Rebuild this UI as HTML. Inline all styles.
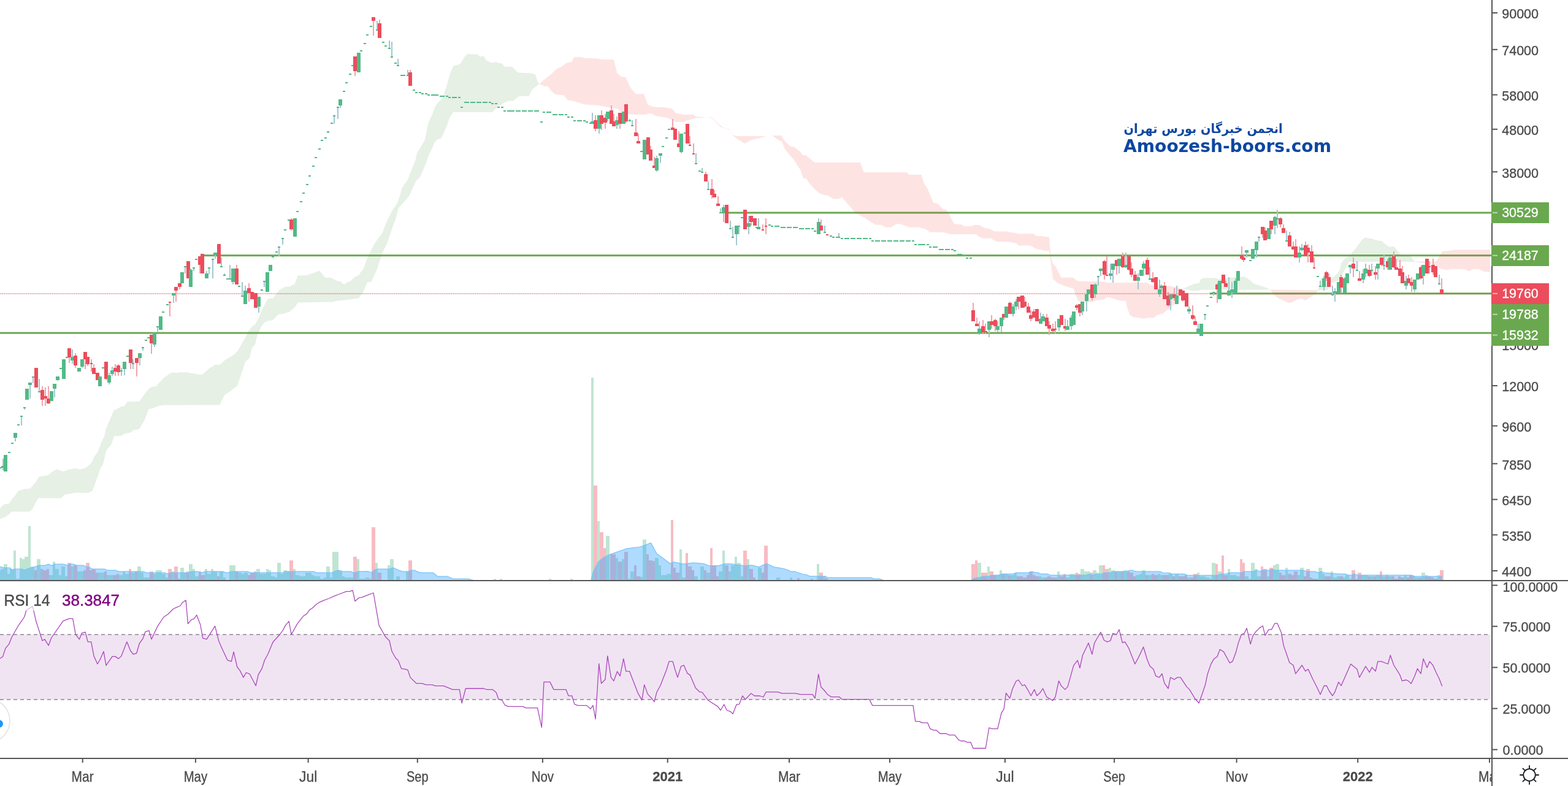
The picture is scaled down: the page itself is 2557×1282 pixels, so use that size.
<!DOCTYPE html><html><head><meta charset="utf-8"><title>Chart</title><style>html,body{margin:0;padding:0;background:#fff;overflow:hidden}svg{display:block}text{font-family:"Liberation Sans",Arial,sans-serif}</style></head><body>
<svg xmlns="http://www.w3.org/2000/svg" width="2557" height="1282" viewBox="0 0 2557 1282">
<defs><clipPath id="cm"><rect x="0" y="0" width="2432" height="946"/></clipPath><clipPath id="cr"><rect x="0" y="948" width="2432" height="288"/></clipPath><clipPath id="ct"><rect x="0" y="1238" width="2432" height="44"/></clipPath></defs>
<rect width="2557" height="1282" fill="#fff"/>
<g clip-path="url(#cm)">
<g fill="#6aa84f">
<rect x="1183" y="345.5" width="1249" height="3"/>
<rect x="328" y="415.2" width="2104" height="3"/>
<rect x="1973" y="477.3" width="459" height="3"/>
<rect x="0" y="541.6" width="2432" height="3"/>
</g>
<rect x="0" y="478" width="2432" height="2" fill="#eb4d5c" fill-opacity="0.2"/>
<line x1="0" y1="479" x2="2432" y2="479" stroke="#eb4d5c" stroke-width="2" stroke-dasharray="1 2" stroke-dashoffset="-1" stroke-opacity="0.45"/>
<g opacity="0.37" shape-rendering="crispEdges">
<rect x="0" y="930.1" width="2" height="15.9" fill="#53b987"/>
<rect x="2" y="928" width="3.9" height="18" fill="#53b987"/>
<rect x="5.9" y="920.2" width="5.8" height="25.8" fill="#53b987"/>
<rect x="11.7" y="936" width="4.3" height="10" fill="#53b987"/>
<rect x="16" y="928" width="6.3" height="18" fill="#53b987"/>
<rect x="22.3" y="898" width="3.5" height="48" fill="#53b987"/>
<rect x="25.8" y="944" width="6.3" height="2" fill="#53b987"/>
<rect x="32.1" y="910" width="3.9" height="36" fill="#53b987"/>
<rect x="36" y="912.1" width="3.9" height="33.9" fill="#53b987"/>
<rect x="39.9" y="908.1" width="6.3" height="37.9" fill="#53b987"/>
<rect x="46.2" y="858" width="3.5" height="88" fill="#53b987"/>
<rect x="49.7" y="924.2" width="6.2" height="21.8" fill="#53b987"/>
<rect x="55.9" y="930.1" width="3.9" height="15.9" fill="#eb4d5c"/>
<rect x="59.8" y="912.1" width="6.1" height="33.9" fill="#53b987"/>
<rect x="65.9" y="928" width="4.1" height="18" fill="#eb4d5c"/>
<rect x="70" y="930.1" width="5.9" height="15.9" fill="#eb4d5c"/>
<rect x="75.9" y="928" width="3.9" height="18" fill="#eb4d5c"/>
<rect x="79.8" y="938.1" width="6.2" height="7.9" fill="#53b987"/>
<rect x="86" y="916" width="4" height="30" fill="#53b987"/>
<rect x="90" y="928" width="5.8" height="18" fill="#53b987"/>
<rect x="95.8" y="938.1" width="4.3" height="7.9" fill="#53b987"/>
<rect x="100.1" y="924.1" width="5.9" height="21.9" fill="#53b987"/>
<rect x="106" y="940" width="3.9" height="6" fill="#53b987"/>
<rect x="109.9" y="918" width="5.9" height="28" fill="#eb4d5c"/>
<rect x="115.8" y="924.1" width="4.3" height="21.9" fill="#53b987"/>
<rect x="120.1" y="922.1" width="5.8" height="23.9" fill="#eb4d5c"/>
<rect x="125.9" y="932.1" width="10.2" height="13.9" fill="#53b987"/>
<rect x="136.1" y="930.1" width="3.9" height="15.9" fill="#eb4d5c"/>
<rect x="140" y="918" width="5.9" height="28" fill="#eb4d5c"/>
<rect x="145.9" y="930.1" width="4.3" height="15.9" fill="#eb4d5c"/>
<rect x="150.2" y="928" width="5.9" height="18" fill="#eb4d5c"/>
<rect x="156.1" y="934" width="3.9" height="12" fill="#eb4d5c"/>
<rect x="160" y="934" width="10.1" height="12" fill="#53b987"/>
<rect x="170.1" y="932.1" width="3.9" height="13.9" fill="#eb4d5c"/>
<rect x="174" y="938.1" width="10.2" height="7.9" fill="#53b987"/>
<rect x="184.2" y="938.1" width="5.9" height="7.9" fill="#eb4d5c"/>
<rect x="190.1" y="936" width="3.9" height="10" fill="#eb4d5c"/>
<rect x="194" y="938.1" width="6" height="7.9" fill="#53b987"/>
<rect x="200" y="932.1" width="3.9" height="13.9" fill="#53b987"/>
<rect x="203.9" y="936" width="6.1" height="10" fill="#53b987"/>
<rect x="210" y="928" width="3.9" height="18" fill="#eb4d5c"/>
<rect x="213.9" y="934" width="6" height="12" fill="#53b987"/>
<rect x="219.9" y="932.1" width="4.1" height="13.9" fill="#eb4d5c"/>
<rect x="224" y="924.1" width="5.9" height="21.9" fill="#53b987"/>
<rect x="229.9" y="934" width="4.1" height="12" fill="#53b987"/>
<rect x="234" y="942.1" width="10" height="3.9" fill="#53b987"/>
<rect x="244" y="932.1" width="5.9" height="13.9" fill="#eb4d5c"/>
<rect x="249.9" y="936" width="4.1" height="10" fill="#53b987"/>
<rect x="254" y="930.1" width="10" height="15.9" fill="#53b987"/>
<rect x="264" y="936" width="6" height="10" fill="#53b987"/>
<rect x="270" y="942.1" width="4.1" height="3.9" fill="#53b987"/>
<rect x="274.1" y="928" width="5.8" height="18" fill="#eb4d5c"/>
<rect x="279.9" y="932.1" width="4.2" height="13.9" fill="#53b987"/>
<rect x="284.1" y="924.1" width="5.9" height="21.9" fill="#eb4d5c"/>
<rect x="290" y="944" width="4" height="2" fill="#eb4d5c"/>
<rect x="294" y="926" width="6" height="20" fill="#53b987"/>
<rect x="300" y="934" width="4" height="12" fill="#53b987"/>
<rect x="304" y="932.1" width="4.1" height="13.9" fill="#eb4d5c"/>
<rect x="308.1" y="920.2" width="5.9" height="25.8" fill="#53b987"/>
<rect x="314" y="928" width="4" height="18" fill="#53b987"/>
<rect x="318" y="940" width="6" height="6" fill="#53b987"/>
<rect x="324" y="932.1" width="3.9" height="13.9" fill="#eb4d5c"/>
<rect x="327.9" y="938.1" width="6" height="7.9" fill="#eb4d5c"/>
<rect x="333.9" y="928" width="4.2" height="18" fill="#53b987"/>
<rect x="338.1" y="936" width="5.8" height="10" fill="#53b987"/>
<rect x="343.9" y="928" width="4.1" height="18" fill="#53b987"/>
<rect x="348" y="932.1" width="6.1" height="13.9" fill="#53b987"/>
<rect x="354.1" y="940" width="3.9" height="6" fill="#eb4d5c"/>
<rect x="358" y="932.1" width="6.1" height="13.9" fill="#53b987"/>
<rect x="364.1" y="942.1" width="3.9" height="3.9" fill="#53b987"/>
<rect x="368" y="945.8" width="6" height="0.2" fill="#53b987"/>
<rect x="374" y="922.1" width="10" height="23.9" fill="#53b987"/>
<rect x="384" y="932.1" width="4" height="13.9" fill="#eb4d5c"/>
<rect x="388" y="934" width="6" height="12" fill="#53b987"/>
<rect x="394" y="936" width="3.9" height="10" fill="#53b987"/>
<rect x="397.9" y="934" width="2.1" height="12" fill="#53b987"/>
<rect x="400" y="934" width="3.9" height="12" fill="#53b987"/>
<rect x="403.9" y="938.1" width="4.1" height="7.9" fill="#eb4d5c"/>
<rect x="408" y="934" width="6.1" height="12" fill="#eb4d5c"/>
<rect x="414.1" y="932.1" width="3.9" height="13.9" fill="#eb4d5c"/>
<rect x="418" y="928" width="6" height="18" fill="#53b987"/>
<rect x="424" y="936" width="10" height="10" fill="#53b987"/>
<rect x="434" y="928" width="3.9" height="18" fill="#53b987"/>
<rect x="437.9" y="930.1" width="4.1" height="15.9" fill="#53b987"/>
<rect x="442" y="940" width="5.9" height="6" fill="#53b987"/>
<rect x="447.9" y="942.1" width="4.1" height="3.9" fill="#53b987"/>
<rect x="452" y="918.1" width="5.9" height="27.9" fill="#53b987"/>
<rect x="457.9" y="936" width="4.3" height="10" fill="#53b987"/>
<rect x="462.2" y="930.1" width="5.8" height="15.9" fill="#53b987"/>
<rect x="468" y="932.1" width="4" height="13.9" fill="#53b987"/>
<rect x="472" y="914.1" width="6" height="31.9" fill="#eb4d5c"/>
<rect x="478" y="928" width="3.9" height="18" fill="#53b987"/>
<rect x="481.9" y="938.1" width="6.1" height="7.9" fill="#53b987"/>
<rect x="488" y="940" width="9.9" height="6" fill="#53b987"/>
<rect x="497.9" y="934" width="10" height="12" fill="#53b987"/>
<rect x="507.9" y="938.1" width="4.1" height="7.9" fill="#53b987"/>
<rect x="512" y="940" width="10" height="6" fill="#53b987"/>
<rect x="522" y="944" width="6" height="2" fill="#53b987"/>
<rect x="528" y="942.1" width="4" height="3.9" fill="#53b987"/>
<rect x="532" y="924.1" width="5.9" height="21.9" fill="#53b987"/>
<rect x="537.9" y="942.1" width="4.1" height="3.9" fill="#53b987"/>
<rect x="542" y="900.2" width="9.9" height="45.8" fill="#53b987"/>
<rect x="551.9" y="930.1" width="6.1" height="15.9" fill="#53b987"/>
<rect x="558" y="940" width="3.9" height="6" fill="#53b987"/>
<rect x="561.9" y="942.1" width="14.1" height="3.9" fill="#53b987"/>
<rect x="576" y="908.1" width="5.9" height="37.9" fill="#eb4d5c"/>
<rect x="581.9" y="912.1" width="4" height="33.9" fill="#53b987"/>
<rect x="585.9" y="944" width="10" height="2" fill="#53b987"/>
<rect x="595.9" y="942.1" width="4.1" height="3.9" fill="#53b987"/>
<rect x="600" y="942.1" width="2" height="3.9" fill="#53b987"/>
<rect x="602" y="944" width="4" height="2" fill="#53b987"/>
<rect x="606" y="860.1" width="6" height="85.9" fill="#eb4d5c"/>
<rect x="612" y="918.1" width="4" height="27.9" fill="#53b987"/>
<rect x="616" y="934" width="5.9" height="12" fill="#eb4d5c"/>
<rect x="632.1" y="922.1" width="4" height="23.9" fill="#53b987"/>
<rect x="636.1" y="912.1" width="5.9" height="33.9" fill="#53b987"/>
<rect x="646.1" y="940" width="5.8" height="6" fill="#53b987"/>
<rect x="662" y="932.1" width="4.1" height="13.9" fill="#53b987"/>
<rect x="666.1" y="914.1" width="5.9" height="31.9" fill="#eb4d5c"/>
<rect x="805" y="944" width="4" height="2" fill="#53b987"/>
<rect x="815" y="944" width="4" height="2" fill="#53b987"/>
<rect x="895" y="944" width="4" height="2" fill="#53b987"/>
<rect x="930" y="944" width="4" height="2" fill="#53b987"/>
<rect x="964" y="615.8" width="3.8" height="330.2" fill="#53b987"/>
<rect x="967.8" y="791.9" width="6" height="154.1" fill="#eb4d5c"/>
<rect x="973.8" y="849.7" width="3.9" height="96.3" fill="#53b987"/>
<rect x="977.7" y="868" width="6" height="78" fill="#eb4d5c"/>
<rect x="983.7" y="894" width="4.3" height="52" fill="#eb4d5c"/>
<rect x="988" y="873.7" width="6" height="72.3" fill="#53b987"/>
<rect x="994.6" y="904.3" width="9.5" height="41.7" fill="#eb4d5c"/>
<rect x="1004.1" y="909.8" width="3.6" height="36.2" fill="#53b987"/>
<rect x="1007.7" y="916" width="6" height="30" fill="#eb4d5c"/>
<rect x="1013.7" y="912" width="4.1" height="34" fill="#53b987"/>
<rect x="1017.8" y="899.7" width="6" height="46.3" fill="#eb4d5c"/>
<rect x="1023.8" y="943.9" width="4.1" height="2.1" fill="#53b987"/>
<rect x="1027.9" y="931.6" width="6.3" height="14.4" fill="#53b987"/>
<rect x="1034.2" y="922" width="3.5" height="24" fill="#eb4d5c"/>
<rect x="1037.7" y="939.8" width="6" height="6.2" fill="#eb4d5c"/>
<rect x="1043.7" y="941.2" width="4.1" height="4.8" fill="#53b987"/>
<rect x="1047.8" y="879.7" width="6" height="66.3" fill="#53b987"/>
<rect x="1053.8" y="903.8" width="4.1" height="42.2" fill="#eb4d5c"/>
<rect x="1057.9" y="913.9" width="6.3" height="32.1" fill="#eb4d5c"/>
<rect x="1064.2" y="915.2" width="3.5" height="30.8" fill="#eb4d5c"/>
<rect x="1067.7" y="909.8" width="6" height="36.2" fill="#53b987"/>
<rect x="1073.7" y="922" width="4.1" height="24" fill="#53b987"/>
<rect x="1077.8" y="937.9" width="9.6" height="8.1" fill="#53b987"/>
<rect x="1087.4" y="935.7" width="6.8" height="10.3" fill="#53b987"/>
<rect x="1094.2" y="847.8" width="3.6" height="98.2" fill="#eb4d5c"/>
<rect x="1097.8" y="926.1" width="4" height="19.9" fill="#eb4d5c"/>
<rect x="1101.8" y="933.5" width="6.1" height="12.5" fill="#eb4d5c"/>
<rect x="1107.9" y="896.1" width="4" height="49.9" fill="#53b987"/>
<rect x="1111.9" y="941.7" width="6" height="4.3" fill="#53b987"/>
<rect x="1118" y="902" width="3.8" height="44" fill="#eb4d5c"/>
<rect x="1121.8" y="924" width="6" height="22" fill="#eb4d5c"/>
<rect x="1127.8" y="930.2" width="4.1" height="15.8" fill="#eb4d5c"/>
<rect x="1131.9" y="939.8" width="6" height="6.2" fill="#53b987"/>
<rect x="1142" y="924" width="6" height="22" fill="#53b987"/>
<rect x="1148" y="930.2" width="4.1" height="15.8" fill="#eb4d5c"/>
<rect x="1152.1" y="933.5" width="5.7" height="12.5" fill="#53b987"/>
<rect x="1158.3" y="894" width="3.6" height="52" fill="#eb4d5c"/>
<rect x="1161.9" y="922" width="6" height="24" fill="#eb4d5c"/>
<rect x="1167.9" y="939.8" width="4.1" height="6.2" fill="#eb4d5c"/>
<rect x="1172" y="932.2" width="6" height="13.8" fill="#53b987"/>
<rect x="1178.3" y="898" width="3.5" height="48" fill="#53b987"/>
<rect x="1181.8" y="922" width="6" height="24" fill="#eb4d5c"/>
<rect x="1187.8" y="932.2" width="4.1" height="13.8" fill="#53b987"/>
<rect x="1191.9" y="922" width="6" height="24" fill="#53b987"/>
<rect x="1197.9" y="907.9" width="4.1" height="38.1" fill="#53b987"/>
<rect x="1202" y="918" width="6" height="28" fill="#53b987"/>
<rect x="1208" y="939.8" width="4.1" height="6.2" fill="#53b987"/>
<rect x="1212.4" y="898" width="5.4" height="48" fill="#eb4d5c"/>
<rect x="1217.8" y="912" width="4.1" height="34" fill="#53b987"/>
<rect x="1221.9" y="927.5" width="6" height="18.5" fill="#eb4d5c"/>
<rect x="1227.9" y="941.7" width="4.1" height="4.3" fill="#eb4d5c"/>
<rect x="1236.1" y="926.1" width="5.5" height="19.9" fill="#53b987"/>
<rect x="1241.6" y="933.5" width="4.1" height="12.5" fill="#eb4d5c"/>
<rect x="1245.7" y="889.9" width="6" height="56.1" fill="#eb4d5c"/>
<rect x="1266.1" y="941.7" width="5.5" height="4.3" fill="#53b987"/>
<rect x="1288" y="942" width="4" height="4" fill="#53b987"/>
<rect x="1300" y="943" width="4" height="3" fill="#eb4d5c"/>
<rect x="1322" y="944" width="4" height="2" fill="#53b987"/>
<rect x="1332.2" y="920.2" width="3.8" height="25.8" fill="#53b987"/>
<rect x="1336" y="934.2" width="5.7" height="11.8" fill="#eb4d5c"/>
<rect x="1341.7" y="940" width="4.3" height="6" fill="#53b987"/>
<rect x="1346" y="943" width="4" height="3" fill="#eb4d5c"/>
<rect x="1584.1" y="920.2" width="5.9" height="25.8" fill="#eb4d5c"/>
<rect x="1590" y="914.1" width="3.9" height="31.9" fill="#eb4d5c"/>
<rect x="1593.9" y="918.1" width="6" height="27.9" fill="#53b987"/>
<rect x="1599.9" y="934" width="10.1" height="12" fill="#eb4d5c"/>
<rect x="1610" y="924.1" width="3.9" height="21.9" fill="#53b987"/>
<rect x="1613.9" y="932.1" width="6" height="13.9" fill="#eb4d5c"/>
<rect x="1619.9" y="938.1" width="4.1" height="7.9" fill="#eb4d5c"/>
<rect x="1624" y="938.1" width="6.1" height="7.9" fill="#53b987"/>
<rect x="1630.1" y="930.1" width="3.9" height="15.9" fill="#53b987"/>
<rect x="1634" y="936" width="4" height="10" fill="#eb4d5c"/>
<rect x="1638" y="936" width="6" height="10" fill="#53b987"/>
<rect x="1644" y="938.1" width="4" height="7.9" fill="#eb4d5c"/>
<rect x="1648" y="938.1" width="5.9" height="7.9" fill="#53b987"/>
<rect x="1653.9" y="934" width="4.1" height="12" fill="#53b987"/>
<rect x="1658" y="940" width="10" height="6" fill="#eb4d5c"/>
<rect x="1668" y="942.1" width="6.1" height="3.9" fill="#eb4d5c"/>
<rect x="1674.1" y="938.1" width="4.1" height="7.9" fill="#eb4d5c"/>
<rect x="1678.2" y="932.1" width="5.8" height="13.9" fill="#eb4d5c"/>
<rect x="1684" y="938.1" width="4.1" height="7.9" fill="#eb4d5c"/>
<rect x="1688.1" y="940" width="5.9" height="6" fill="#eb4d5c"/>
<rect x="1694" y="940" width="4" height="6" fill="#53b987"/>
<rect x="1698" y="942.1" width="6" height="3.9" fill="#53b987"/>
<rect x="1704" y="942.1" width="4" height="3.9" fill="#eb4d5c"/>
<rect x="1708" y="940" width="6" height="6" fill="#eb4d5c"/>
<rect x="1714" y="942.1" width="9.9" height="3.9" fill="#eb4d5c"/>
<rect x="1723.9" y="932.1" width="4.1" height="13.9" fill="#53b987"/>
<rect x="1728" y="940" width="6.1" height="6" fill="#eb4d5c"/>
<rect x="1734.1" y="936" width="3.9" height="10" fill="#eb4d5c"/>
<rect x="1738" y="942.1" width="6" height="3.9" fill="#53b987"/>
<rect x="1744" y="936" width="10" height="10" fill="#53b987"/>
<rect x="1754" y="934" width="4" height="12" fill="#eb4d5c"/>
<rect x="1758" y="936" width="4" height="10" fill="#eb4d5c"/>
<rect x="1762" y="928" width="6" height="18" fill="#53b987"/>
<rect x="1768" y="932.1" width="9.9" height="13.9" fill="#53b987"/>
<rect x="1777.9" y="934" width="4.1" height="12" fill="#eb4d5c"/>
<rect x="1782" y="930.1" width="6" height="15.9" fill="#53b987"/>
<rect x="1788" y="934" width="4.1" height="12" fill="#53b987"/>
<rect x="1792.1" y="922.1" width="5.9" height="23.9" fill="#53b987"/>
<rect x="1798" y="922.1" width="4.1" height="23.9" fill="#eb4d5c"/>
<rect x="1802.1" y="928" width="5.8" height="18" fill="#eb4d5c"/>
<rect x="1807.9" y="926" width="4" height="20" fill="#53b987"/>
<rect x="1811.9" y="930.1" width="6" height="15.9" fill="#53b987"/>
<rect x="1817.9" y="932.1" width="4.1" height="13.9" fill="#eb4d5c"/>
<rect x="1822" y="932.1" width="5.9" height="13.9" fill="#53b987"/>
<rect x="1827.9" y="932.1" width="4.1" height="13.9" fill="#eb4d5c"/>
<rect x="1832" y="930.1" width="6" height="15.9" fill="#53b987"/>
<rect x="1838" y="932.1" width="4" height="13.9" fill="#eb4d5c"/>
<rect x="1842" y="934" width="5.9" height="12" fill="#eb4d5c"/>
<rect x="1847.9" y="940" width="4.1" height="6" fill="#eb4d5c"/>
<rect x="1852" y="938.1" width="6" height="7.9" fill="#53b987"/>
<rect x="1858" y="936" width="4" height="10" fill="#53b987"/>
<rect x="1862" y="930.1" width="6" height="15.9" fill="#53b987"/>
<rect x="1868" y="938.1" width="3.9" height="7.9" fill="#eb4d5c"/>
<rect x="1871.9" y="938.1" width="6.1" height="7.9" fill="#53b987"/>
<rect x="1878" y="936" width="4.1" height="10" fill="#eb4d5c"/>
<rect x="1882.1" y="938.1" width="5.8" height="7.9" fill="#eb4d5c"/>
<rect x="1887.9" y="936" width="4.1" height="10" fill="#53b987"/>
<rect x="1892" y="938.1" width="4.2" height="7.9" fill="#53b987"/>
<rect x="1896.2" y="938.1" width="9.7" height="7.9" fill="#eb4d5c"/>
<rect x="1905.9" y="936" width="6.1" height="10" fill="#53b987"/>
<rect x="1912" y="940" width="4.1" height="6" fill="#eb4d5c"/>
<rect x="1916.1" y="936" width="5.9" height="10" fill="#53b987"/>
<rect x="1922" y="940" width="9.9" height="6" fill="#eb4d5c"/>
<rect x="1931.9" y="938.1" width="4.1" height="7.9" fill="#eb4d5c"/>
<rect x="1936" y="942.1" width="5.9" height="3.9" fill="#53b987"/>
<rect x="1941.9" y="942.1" width="4.1" height="3.9" fill="#eb4d5c"/>
<rect x="1946" y="936" width="5.9" height="10" fill="#eb4d5c"/>
<rect x="1951.9" y="934" width="4.1" height="12" fill="#53b987"/>
<rect x="1956" y="940" width="9.9" height="6" fill="#53b987"/>
<rect x="1965.9" y="942.1" width="6.1" height="3.9" fill="#53b987"/>
<rect x="1972" y="944" width="3.9" height="2" fill="#53b987"/>
<rect x="1975.9" y="918.1" width="6.1" height="27.9" fill="#53b987"/>
<rect x="1982" y="920.2" width="4" height="25.8" fill="#eb4d5c"/>
<rect x="1986" y="932.1" width="6" height="13.9" fill="#53b987"/>
<rect x="1992" y="906" width="4" height="40" fill="#eb4d5c"/>
<rect x="1996" y="938.1" width="6.1" height="7.9" fill="#eb4d5c"/>
<rect x="2002.1" y="928" width="3.9" height="18" fill="#53b987"/>
<rect x="2006" y="938.1" width="10" height="7.9" fill="#53b987"/>
<rect x="2016" y="940" width="6" height="6" fill="#53b987"/>
<rect x="2022" y="912.1" width="4" height="33.9" fill="#eb4d5c"/>
<rect x="2026" y="918.1" width="3.9" height="27.9" fill="#eb4d5c"/>
<rect x="2029.9" y="940" width="6" height="6" fill="#53b987"/>
<rect x="2035.9" y="944" width="4.2" height="2" fill="#53b987"/>
<rect x="2040.1" y="918.1" width="5.8" height="27.9" fill="#53b987"/>
<rect x="2045.9" y="928" width="4.1" height="18" fill="#53b987"/>
<rect x="2050" y="940" width="6" height="6" fill="#53b987"/>
<rect x="2056" y="924.1" width="3.9" height="21.9" fill="#eb4d5c"/>
<rect x="2059.9" y="928" width="6" height="18" fill="#eb4d5c"/>
<rect x="2065.9" y="940" width="4.1" height="6" fill="#53b987"/>
<rect x="2070" y="926" width="5.8" height="20" fill="#eb4d5c"/>
<rect x="2075.8" y="922.1" width="4.3" height="23.9" fill="#53b987"/>
<rect x="2080.1" y="920.2" width="5.9" height="25.8" fill="#53b987"/>
<rect x="2086" y="934" width="3.9" height="12" fill="#eb4d5c"/>
<rect x="2089.9" y="938.1" width="6" height="7.9" fill="#eb4d5c"/>
<rect x="2095.9" y="926" width="4.2" height="20" fill="#53b987"/>
<rect x="2100.1" y="936" width="5.8" height="10" fill="#eb4d5c"/>
<rect x="2105.9" y="938.1" width="4.1" height="7.9" fill="#eb4d5c"/>
<rect x="2110" y="932.1" width="5.9" height="13.9" fill="#eb4d5c"/>
<rect x="2115.9" y="938.1" width="4.1" height="7.9" fill="#53b987"/>
<rect x="2120" y="926" width="5.9" height="20" fill="#53b987"/>
<rect x="2125.9" y="940" width="4.1" height="6" fill="#eb4d5c"/>
<rect x="2130" y="928" width="5.9" height="18" fill="#eb4d5c"/>
<rect x="2135.9" y="942.1" width="4.1" height="3.9" fill="#eb4d5c"/>
<rect x="2140" y="944" width="5.8" height="2" fill="#eb4d5c"/>
<rect x="2145.8" y="944" width="4.3" height="2" fill="#53b987"/>
<rect x="2150.1" y="926" width="5.9" height="20" fill="#53b987"/>
<rect x="2156" y="936" width="3.9" height="10" fill="#53b987"/>
<rect x="2159.9" y="940" width="10" height="6" fill="#eb4d5c"/>
<rect x="2169.9" y="932.1" width="3.9" height="13.9" fill="#53b987"/>
<rect x="2173.8" y="942.1" width="6.2" height="3.9" fill="#53b987"/>
<rect x="2180" y="940" width="4.1" height="6" fill="#53b987"/>
<rect x="2184.1" y="940" width="5.9" height="6" fill="#eb4d5c"/>
<rect x="2190" y="942.1" width="4.1" height="3.9" fill="#53b987"/>
<rect x="2194.1" y="938.1" width="5.8" height="7.9" fill="#53b987"/>
<rect x="2199.9" y="944" width="4.1" height="2" fill="#53b987"/>
<rect x="2204" y="930.1" width="6" height="15.9" fill="#eb4d5c"/>
<rect x="2210" y="944" width="4" height="2" fill="#53b987"/>
<rect x="2214" y="934" width="5.9" height="12" fill="#eb4d5c"/>
<rect x="2219.9" y="938.1" width="10" height="7.9" fill="#53b987"/>
<rect x="2229.9" y="940" width="4.1" height="6" fill="#eb4d5c"/>
<rect x="2234" y="940" width="6" height="6" fill="#53b987"/>
<rect x="2240" y="940" width="4" height="6" fill="#eb4d5c"/>
<rect x="2244" y="938.1" width="6" height="7.9" fill="#53b987"/>
<rect x="2250" y="932.1" width="3.9" height="13.9" fill="#eb4d5c"/>
<rect x="2253.9" y="940" width="6" height="6" fill="#53b987"/>
<rect x="2259.9" y="938.1" width="4" height="7.9" fill="#eb4d5c"/>
<rect x="2263.9" y="940" width="6.1" height="6" fill="#53b987"/>
<rect x="2270" y="940" width="3.9" height="6" fill="#eb4d5c"/>
<rect x="2273.9" y="944" width="6.2" height="2" fill="#eb4d5c"/>
<rect x="2280.1" y="940" width="3.9" height="6" fill="#eb4d5c"/>
<rect x="2284" y="942.1" width="5.9" height="3.9" fill="#eb4d5c"/>
<rect x="2289.9" y="938.1" width="4.1" height="7.9" fill="#53b987"/>
<rect x="2294" y="942.1" width="4.1" height="3.9" fill="#eb4d5c"/>
<rect x="2298.1" y="938.1" width="5.9" height="7.9" fill="#eb4d5c"/>
<rect x="2304" y="940" width="4" height="6" fill="#53b987"/>
<rect x="2308" y="942.1" width="6" height="3.9" fill="#53b987"/>
<rect x="2314" y="942.1" width="4.1" height="3.9" fill="#eb4d5c"/>
<rect x="2318.1" y="934" width="5.8" height="12" fill="#53b987"/>
<rect x="2323.9" y="938.1" width="4.1" height="7.9" fill="#eb4d5c"/>
<rect x="2328" y="940" width="5.9" height="6" fill="#eb4d5c"/>
<rect x="2333.9" y="942.1" width="4.1" height="3.9" fill="#eb4d5c"/>
<rect x="2338" y="944" width="6" height="2" fill="#eb4d5c"/>
<rect x="2344" y="938.1" width="4" height="7.9" fill="#53b987"/>
<rect x="2348" y="930.1" width="6" height="15.9" fill="#eb4d5c"/>
</g>
<polygon points="0,924.2 5.5,925.8 16.4,926.2 20.3,930.1 23.5,928.2 36,928.2 39.9,930.1 43.8,928 50.1,926 55.5,925 61.8,922.7 65.7,922.1 73.5,922.1 79.8,920.2 84.1,922.7 88.4,920.2 104,920.2 109.5,922.1 113.4,920.2 119.7,920.2 124.4,922.1 135.3,922.1 140,924.1 144.7,924.6 150.2,928 170.5,928 174.4,930 187.7,930 194,932.1 233.6,932.1 238.3,934 268.8,934 273.5,936.1 278.2,934 307.9,934 311.8,932.1 322,932.1 325.1,932.9 329.8,934 334.5,932.1 363.5,932.1 368.2,934 372.1,934 376.8,932.1 403.9,932.1 407.8,934 461.8,934 465.7,932.1 511.9,932.1 515.8,934 541.6,934 546.3,931.7 551.7,930.1 556.4,932.1 572.1,932.1 576,934 579.1,934 584.6,932.1 600,932 606,934 611,929.3 615.6,928 635.2,928 640.3,926 643.8,927 650,930.1 656.3,932.1 665.7,932.1 670.4,930 675.9,930 679.8,932.1 686,934 706.4,934 713.4,940 729.8,940 739.2,944.2 764.3,944.2 769,945.8 772,946 772,946 0,946" fill="#29a0ff" fill-opacity="0.38"/>
<polyline points="0,924.2 5.5,925.8 16.4,926.2 20.3,930.1 23.5,928.2 36,928.2 39.9,930.1 43.8,928 50.1,926 55.5,925 61.8,922.7 65.7,922.1 73.5,922.1 79.8,920.2 84.1,922.7 88.4,920.2 104,920.2 109.5,922.1 113.4,920.2 119.7,920.2 124.4,922.1 135.3,922.1 140,924.1 144.7,924.6 150.2,928 170.5,928 174.4,930 187.7,930 194,932.1 233.6,932.1 238.3,934 268.8,934 273.5,936.1 278.2,934 307.9,934 311.8,932.1 322,932.1 325.1,932.9 329.8,934 334.5,932.1 363.5,932.1 368.2,934 372.1,934 376.8,932.1 403.9,932.1 407.8,934 461.8,934 465.7,932.1 511.9,932.1 515.8,934 541.6,934 546.3,931.7 551.7,930.1 556.4,932.1 572.1,932.1 576,934 579.1,934 584.6,932.1 600,932 606,934 611,929.3 615.6,928 635.2,928 640.3,926 643.8,927 650,930.1 656.3,932.1 665.7,932.1 670.4,930 675.9,930 679.8,932.1 686,934 706.4,934 713.4,940 729.8,940 739.2,944.2 764.3,944.2 769,945.8 772,946" fill="none" stroke="#7cc3f8" stroke-width="1.25"/>
<polygon points="964,946 967.3,933 975.5,916.6 983.7,909.8 994.6,904.3 1008.2,899.7 1021.9,894.8 1032.8,893.4 1043.7,892 1061.5,885.6 1071,903 1081.9,911.1 1092.8,919.3 1098.3,916.6 1114.7,919.9 1131,918 1147.4,919.3 1155.6,922.6 1172,922.6 1182.9,919.3 1193.8,919.9 1212.9,922.6 1226.6,922 1237.5,924.8 1249.8,919.3 1262,924.8 1278.4,927.5 1285.7,930.1 1289.1,932 1295.9,932 1302.7,934.7 1309.5,936.5 1314,937 1320.8,939.9 1345.8,939.9 1350.3,942.2 1420.6,942.2 1425.2,944 1434.2,944 1439.9,946 1439.9,946 964,946" fill="#29a0ff" fill-opacity="0.38"/>
<polyline points="964,946 967.3,933 975.5,916.6 983.7,909.8 994.6,904.3 1008.2,899.7 1021.9,894.8 1032.8,893.4 1043.7,892 1061.5,885.6 1071,903 1081.9,911.1 1092.8,919.3 1098.3,916.6 1114.7,919.9 1131,918 1147.4,919.3 1155.6,922.6 1172,922.6 1182.9,919.3 1193.8,919.9 1212.9,922.6 1226.6,922 1237.5,924.8 1249.8,919.3 1262,924.8 1278.4,927.5 1285.7,930.1 1289.1,932 1295.9,932 1302.7,934.7 1309.5,936.5 1314,937 1320.8,939.9 1345.8,939.9 1350.3,942.2 1420.6,942.2 1425.2,944 1434.2,944 1439.9,946" fill="none" stroke="#7cc3f8" stroke-width="1.25"/>
<polygon points="1584,945.8 1587.8,943.8 1593.3,942.1 1598,941.8 1602.7,940 1612.9,940 1617.5,938.1 1628.5,938.1 1633.2,936.1 1652,936.1 1657.4,934 1677.8,934 1682.1,932.1 1688,933.6 1692.6,934 1697.3,936 1708.3,936 1712.2,938.1 1771.6,938.1 1776.3,936.1 1780,937.5 1782,938.3 1784.7,936.4 1795.6,936 1801.1,934 1811.3,934 1816,932.1 1837.9,932.1 1842.6,930 1846.5,930 1852,932.1 1891.8,932.1 1895.8,934 1906.7,934.4 1910.6,936.1 1931,936.1 1935.6,938.1 1985.9,938.3 1990.2,936.1 1999.6,936.1 2005,934 2023.8,934 2029.3,932.1 2044.1,932.1 2049.2,930 2053.9,932.1 2059,930 2070,930 2074.3,928.2 2079.3,930 2125.5,930 2130.2,932.1 2144.3,932.1 2149.7,934 2154,932.1 2160,934 2183.1,936 2194.1,936 2198.8,938.1 2204.2,938.1 2208.2,936.1 2213.6,938.1 2302,938.1 2307.5,940 2351.7,940 2351.7,946 1584,946" fill="#29a0ff" fill-opacity="0.38"/>
<polyline points="1584,945.8 1587.8,943.8 1593.3,942.1 1598,941.8 1602.7,940 1612.9,940 1617.5,938.1 1628.5,938.1 1633.2,936.1 1652,936.1 1657.4,934 1677.8,934 1682.1,932.1 1688,933.6 1692.6,934 1697.3,936 1708.3,936 1712.2,938.1 1771.6,938.1 1776.3,936.1 1780,937.5 1782,938.3 1784.7,936.4 1795.6,936 1801.1,934 1811.3,934 1816,932.1 1837.9,932.1 1842.6,930 1846.5,930 1852,932.1 1891.8,932.1 1895.8,934 1906.7,934.4 1910.6,936.1 1931,936.1 1935.6,938.1 1985.9,938.3 1990.2,936.1 1999.6,936.1 2005,934 2023.8,934 2029.3,932.1 2044.1,932.1 2049.2,930 2053.9,932.1 2059,930 2070,930 2074.3,928.2 2079.3,930 2125.5,930 2130.2,932.1 2144.3,932.1 2149.7,934 2154,932.1 2160,934 2183.1,936 2194.1,936 2198.8,938.1 2204.2,938.1 2208.2,936.1 2213.6,938.1 2302,938.1 2307.5,940 2351.7,940" fill="none" stroke="#7cc3f8" stroke-width="1.25"/>
<polygon points="0,829 6.5,822.4 15.3,821.3 19.7,813.7 25,808 29.5,800.6 35,799 41.5,797.3 49,796.9 59,785.3 63.3,777.6 70,776.5 78.6,775 87.4,767.8 92.8,765.6 102.6,768.9 113.6,765.6 122.3,764 131,765.6 139.8,763 146.3,758 150.7,752.5 152.9,746 159.4,737.2 166,719.8 170.3,711 172.5,700 179,684.8 185.6,669.5 192.2,666.3 197.6,663 203,661.9 207.5,655.3 227,655 233.7,645.5 242.4,634.6 246.8,631.3 254.4,630.2 266.4,617.1 277.3,608.8 284,607.3 288.3,608.4 292.6,607.3 305.7,607.3 310.1,608.8 318.8,609.5 322.1,611 330,610.8 341.2,601 350.6,595 358.1,595 367.5,587 381.5,578.6 388,572 395.5,558 400.2,550.5 404.9,541.1 410.5,532.7 416.1,529 421.8,518.7 427.4,504.6 434.9,490.6 437.7,486.8 445.2,486.8 454.5,473.7 464.8,467.7 472.3,467.2 480.7,463.4 485.4,449.4 500.4,449 512.6,444.7 521,441.5 530.4,453.1 539.7,453.1 551,458.7 554.7,458.7 561.3,464.3 565.9,460.6 571.6,458.7 579,451.2 585.6,448.4 589.4,441.9 592.2,440 599,420.7 611.2,396.4 623.4,380.2 629.4,363.9 639.6,343.6 647.7,331.5 651.8,320.1 655.5,306.6 664.9,293.5 670.5,278.5 678,259.8 679.9,249.5 685.5,241 693,227.9 698.6,199.9 704.2,188.6 709.9,173.6 713.6,168 721.1,160.5 724.8,151.2 729.5,136.2 734.2,119.3 739.8,107.2 745.4,106.2 751,103.4 758.5,91.2 763.2,87.5 767.9,88.4 778.2,88.4 782.9,92.7 788.5,91.2 793.2,98.7 801.6,102.5 809.1,101 812.8,102.8 818.5,103.4 823.1,109 835.3,109 844.7,118.4 863.4,119.3 872.8,121.2 876.5,132.4 879.3,137.1 879.3,137.1 876.5,139 867.2,146.5 862.5,156.8 846.6,156.8 837.2,164.6 829.7,164.6 823.1,167.1 811,174.6 802.5,183 739.8,183 737.9,183.9 732.3,194.2 728.6,205.5 721.1,222.3 719.2,226.1 713.6,227 708.9,231.7 704.2,242.9 698.6,254.2 694.9,265.4 691.1,274.8 685.5,287.9 678,295.4 672.4,308.5 666.8,320.1 663.9,323.4 649.7,339.6 645.7,355.8 639.6,372 631.5,396.4 623.4,412.6 614.6,440 610.9,447.5 605.3,459.7 598.7,460.6 592.2,476.5 584.7,486.4 562.2,489.6 547.2,490.9 544.4,492.4 485.4,493.4 481.7,499.9 472.3,508.4 461.1,512.1 453.6,513 444.2,522.4 436.7,523.3 431.1,526.1 425.5,533.6 421.8,543 419.9,544.9 416.1,561.7 410.9,567.3 406.8,584.2 400.2,589.8 393.7,609.5 387.1,629.1 374.9,638.5 366.5,644.1 358.1,660.6 265.3,660.8 257.7,662.6 249,665.8 242.4,667.4 235.9,684.8 227,700.1 218.4,701.2 213,705.6 205.3,706.7 196.5,711 186.7,711 181.3,725.2 174.7,732.9 172.5,737.2 168.2,756.9 163.8,763.4 157.2,783.1 150.7,800.6 144.1,803.8 122.3,803.8 113.6,805.6 104.8,807 99.4,812.6 62.2,812.6 56.8,822.4 52.4,831.1 48,834.4 18.6,834.4 15.3,838.8 8.7,843.2 0,846.4" fill="rgba(88,155,82,0.15)"/>
<polygon points="879.3,137.1 888.4,129.1 898.2,121.5 907,112.8 914.6,109.5 923.3,102.9 932.1,100.7 936.4,93.1 947.4,93.1 953.9,94.9 973.6,95.3 982.3,97 1000.9,97 1006.3,119.3 1012.9,124.8 1020.5,125.9 1028.2,143.3 1036.9,153.2 1050,153.2 1056.5,170.6 1063.1,173.5 1071.8,175 1085,175 1095.9,177.2 1102.4,184.8 1115.5,187 1130.8,187 1135.2,190.3 1152.6,191.4 1161.4,191.4 1167.9,197.9 1174.5,204.5 1181,208.8 1189.8,211 1194.1,219.8 1200.7,222 1248.7,222 1259.4,221 1274.4,221 1278.2,228.2 1288.5,238.5 1295,239.4 1304.4,246.9 1309.1,252.9 1314.8,253.5 1327,263.8 1328.8,265.1 1403,265.1 1408.6,281.1 1478.1,281.1 1482.8,284.9 1502.5,284.9 1507.2,299.5 1512.8,307.9 1522.2,330.5 1526.9,331.4 1532.5,335.2 1537.2,340.8 1542.9,341.7 1546.6,347.4 1556,365.2 1567.3,366.1 1572.9,369 1584.1,369 1587.9,367.1 1597.3,367.1 1602.9,370.8 1614.2,373.6 1621.7,377.4 1641.4,377.4 1649.9,379.3 1657.4,380.2 1661.1,381.2 1685.5,381.2 1690.2,384.9 1700.6,385.3 1711.1,387 1712.3,403.5 1713.5,417.5 1716.4,429.3 1721.1,434 1730.5,452.7 1750.4,452.7 1756.9,458.6 1800.3,459.2 1804.4,461 1870.7,461 1875.4,464.5 1909.4,466.8 1929.4,470.8 1929.4,471.5 1924.7,482.1 1920,489.1 1915.3,496.2 1908.2,502 1896.5,511.4 1887.1,513.8 1881.2,518.4 1870.7,518.4 1865.4,520.2 1860.1,519 1848.4,517.3 1842.5,513.8 1839,504.4 1835.5,490.9 1824.9,490.3 1809.7,485 1805,485 1800.3,488.5 1787.4,490.3 1781.5,492.6 1761.6,492.6 1758,490.3 1753.4,479.7 1751,470.9 1736.9,466.8 1725.2,462.1 1717,455.1 1711.1,409.3 1701.7,408.7 1698.2,407.6 1691.2,406.5 1679.9,400.5 1661.1,400.5 1657.4,397.1 1644.2,394.3 1625.4,394.3 1616.1,388.7 1602.9,388.7 1597.3,386.8 1591.7,382.1 1550.4,382.1 1537.2,378.7 1516.6,378.7 1509,373.6 1497.8,370.8 1482.8,370.8 1467.8,365.2 1462.1,365.2 1452.7,370.8 1443.4,370.8 1437.7,366.7 1428.3,366.7 1419,361.4 1409.6,354.9 1400.2,350.2 1393.6,346 1388.9,339.9 1381.4,331.4 1373,321.6 1368.3,324.5 1358.9,324.5 1349.5,318.6 1345.7,318.3 1336.4,315.4 1327,307 1319.5,298.6 1314.8,291 1310.1,291 1305.4,277 1300.7,270.4 1295,261 1287.5,252.6 1280,243.2 1275.3,231 1268.8,228.2 1259.4,221 1248.7,222 1244.4,224.1 1224.7,228.5 1214.9,234 1205,228.5 1196.3,222 1189.8,212.1 1174.5,206.7 1161.4,192.5 1152.6,191.6 1135.2,192.5 1124.2,195.7 1113.3,199 1102.4,199 1095.9,195.7 1087.1,191.8 1069.6,189.2 1060.9,184.8 1052.2,187 1034.7,187 1026,185.9 1012.9,182.6 1006.3,177.2 991,175 975.7,171.7 953.9,170.6 947.4,168.4 936.4,165.2 925.5,163 919,155.3 905.9,154.3 898.2,147.7 893.9,141.1 888.4,140.7 879.3,137.1" fill="rgba(244,67,54,0.14)"/>
<polygon points="1929.4,471 1936.4,467.4 1948.1,462.7 1955.2,462.1 1958.7,455.1 1964.6,453.3 1978.3,453.3 1988.1,455 1999.3,453.6 2012,452.2 2020.4,452.2 2028.8,451.1 2038.7,457.1 2044.3,462.7 2058.3,466.9 2066.7,469.7 2071,472.6 2071,472.6 1958.7,472.7 1954,473.9 1944.6,474.5 1936.4,472.7 1929.4,471" fill="rgba(88,155,82,0.15)"/>
<polygon points="2071,472.6 2149.6,473.3 2149.6,473.3 2148.2,476.1 2144,480.3 2137,484.5 2128.5,490.1 2122.9,487.3 2113.1,489.4 2107.5,492.9 2101.9,494.3 2086.4,487.3 2079.4,482.4 2071,472.6" fill="rgba(244,67,54,0.14)"/>
<polygon points="2149.6,473.3 2150.9,466.4 2153.7,454.2 2155.1,453.5 2167.2,452.6 2173.2,453.1 2178.3,448.4 2181.8,444.9 2184.8,439.8 2186.9,429.5 2191.2,423.9 2194.6,421.3 2197.2,420 2203.2,414 2210.1,406.3 2216.1,397.7 2222.1,390 2224.5,388.5 2227,387.3 2232,388.7 2237,389.3 2239.3,390 2244.4,392.1 2253,393 2261.6,400.3 2266.7,402.9 2271.9,401.2 2276.2,405.4 2283.9,414.9 2289,417.5 2300.2,417.5 2307,426.3 2307,426.9 2200,427 2192,442 2182,458 2170,462 2165,473 2149.6,473.3" fill="rgba(88,155,82,0.15)"/>
<polygon points="2307,426.3 2340,427.3 2344,423 2348.6,416 2351,411 2354.9,409.4 2367.4,408.6 2370.5,407.3 2430,407.3 2430,443.7 2420.4,442.9 2411,439 2400.9,439 2397,442.5 2387.6,439 2365.8,439 2360.3,440.6 2350.2,438.6 2345.5,435.5 2342.4,432.4 2307,426.9" fill="rgba(244,67,54,0.14)"/>
<g shape-rendering="crispEdges"><rect x="3.5" y="748" width="2" height="19" fill="#a3c7d0"/><rect x="23.5" y="706" width="2" height="14" fill="#a3c7d0"/><rect x="33.5" y="679" width="2" height="14.5" fill="#a3c7d0"/><rect x="38.5" y="665" width="2" height="3" fill="#a3c7d0"/><rect x="48" y="624" width="2" height="25.5" fill="#a3c7d0"/><rect x="52.5" y="615" width="2" height="10" fill="#a3c7d0"/><rect x="62.5" y="618" width="2" height="21" fill="#a3c7d0"/><rect x="68" y="630" width="2" height="32" fill="#f3a3ad"/><rect x="72.5" y="632" width="2" height="30" fill="#f3a3ad"/><rect x="78" y="630" width="2" height="29" fill="#f3a3ad"/><rect x="88" y="626" width="2" height="21.6" fill="#a3c7d0"/><rect x="92.5" y="614" width="2" height="7" fill="#a3c7d0"/><rect x="112" y="568" width="2" height="23.5" fill="#f3a3ad"/><rect x="117" y="570" width="2" height="23.4" fill="#a3c7d0"/><rect x="122" y="576" width="2" height="23.5" fill="#f3a3ad"/><rect x="132.5" y="586" width="2" height="14" fill="#a3c7d0"/><rect x="137.5" y="574" width="2" height="28" fill="#f3a3ad"/><rect x="142" y="582" width="2" height="15" fill="#f3a3ad"/><rect x="147.5" y="586" width="2" height="19.5" fill="#f3a3ad"/><rect x="152" y="594" width="2" height="15.6" fill="#f3a3ad"/><rect x="172" y="590" width="2" height="30" fill="#f3a3ad"/><rect x="176.5" y="608" width="2" height="19" fill="#a3c7d0"/><rect x="182" y="598" width="2" height="15" fill="#a3c7d0"/><rect x="186.5" y="594" width="2" height="19" fill="#f3a3ad"/><rect x="192" y="594" width="2" height="19" fill="#f3a3ad"/><rect x="196.5" y="600" width="2" height="13" fill="#a3c7d0"/><rect x="202" y="590" width="2" height="22" fill="#a3c7d0"/><rect x="212" y="570" width="2" height="31.5" fill="#f3a3ad"/><rect x="216" y="586" width="2" height="15.5" fill="#a3c7d0"/><rect x="222" y="584" width="2" height="30" fill="#f3a3ad"/><rect x="226.5" y="576" width="2" height="19.5" fill="#a3c7d0"/><rect x="232" y="567" width="2" height="5" fill="#a3c7d0"/><rect x="245.6" y="546.3" width="2" height="30.7" fill="#f3a3ad"/><rect x="251" y="542" width="2" height="23.6" fill="#a3c7d0"/><rect x="255.7" y="532.8" width="2" height="7.9" fill="#a3c7d0"/><rect x="276" y="493" width="2" height="22.8" fill="#f3a3ad"/><rect x="282" y="478" width="2" height="15.9" fill="#a3c7d0"/><rect x="286" y="468" width="2" height="24" fill="#f3a3ad"/><rect x="292" y="462" width="2" height="10" fill="#f3a3ad"/><rect x="301" y="435" width="2" height="10.6" fill="#a3c7d0"/><rect x="310" y="438" width="2" height="29.5" fill="#a3c7d0"/><rect x="315" y="436.8" width="2" height="4.7" fill="#a3c7d0"/><rect x="325" y="418" width="2" height="27.6" fill="#f3a3ad"/><rect x="336" y="442" width="2" height="11.6" fill="#a3c7d0"/><rect x="340" y="436.8" width="2" height="10.2" fill="#a3c7d0"/><rect x="346" y="422.8" width="2" height="30.8" fill="#a3c7d0"/><rect x="350" y="412" width="2" height="9.8" fill="#a3c7d0"/><rect x="360" y="420" width="2" height="15" fill="#a3c7d0"/><rect x="365" y="446" width="2" height="3" fill="#a3c7d0"/><rect x="374" y="432" width="2" height="23" fill="#a3c7d0"/><rect x="379" y="438" width="2" height="25.6" fill="#a3c7d0"/><rect x="385" y="432" width="2" height="31.6" fill="#f3a3ad"/><rect x="394" y="460" width="2" height="22.7" fill="#a3c7d0"/><rect x="399" y="466" width="2" height="29.8" fill="#a3c7d0"/><rect x="405" y="462" width="2" height="30" fill="#f3a3ad"/><rect x="421" y="484" width="2" height="25.8" fill="#a3c7d0"/><rect x="426" y="473" width="2" height="2" fill="#a3c7d0"/><rect x="430" y="459" width="2" height="8.7" fill="#a3c7d0"/><rect x="454" y="403" width="2" height="15" fill="#a3c7d0"/><rect x="460" y="388.7" width="2" height="10.3" fill="#a3c7d0"/><rect x="474" y="356" width="2" height="20" fill="#f3a3ad"/><rect x="534" y="215" width="2" height="2" fill="#a3c7d0"/><rect x="544" y="189" width="2" height="12.5" fill="#a3c7d0"/><rect x="549.7" y="174.9" width="2" height="18.9" fill="#a3c7d0"/><rect x="554" y="162" width="2" height="13.7" fill="#a3c7d0"/><rect x="577.8" y="91.9" width="2" height="32" fill="#f3a3ad"/><rect x="608" y="28.3" width="2" height="29.3" fill="#f3a3ad"/><rect x="613.6" y="34.2" width="2" height="14.5" fill="#a3c7d0"/><rect x="618" y="32.2" width="2" height="29.3" fill="#f3a3ad"/><rect x="633.8" y="66.2" width="2" height="12.6" fill="#a3c7d0"/><rect x="637.9" y="68" width="2" height="24.7" fill="#a3c7d0"/><rect x="647.9" y="96.1" width="2" height="10.8" fill="#a3c7d0"/><rect x="663.5" y="114" width="2" height="8.8" fill="#a3c7d0"/><rect x="667.8" y="114" width="2" height="25.8" fill="#f3a3ad"/><rect x="965" y="184.3" width="2" height="17.3" fill="#a3c7d0"/><rect x="970" y="187.9" width="2" height="25.9" fill="#f3a3ad"/><rect x="976" y="188" width="2" height="29.8" fill="#a3c7d0"/><rect x="980" y="180" width="2" height="31.7" fill="#f3a3ad"/><rect x="986" y="186" width="2" height="23.7" fill="#f3a3ad"/><rect x="990" y="182" width="2" height="15.5" fill="#a3c7d0"/><rect x="996" y="172" width="2" height="29.6" fill="#f3a3ad"/><rect x="1000" y="186" width="2" height="19.6" fill="#f3a3ad"/><rect x="1005" y="190" width="2" height="19.7" fill="#a3c7d0"/><rect x="1010" y="184" width="2" height="25.7" fill="#f3a3ad"/><rect x="1020" y="170" width="2" height="30" fill="#f3a3ad"/><rect x="1026" y="194" width="2" height="2.7" fill="#a3c7d0"/><rect x="1030" y="196" width="2" height="9" fill="#a3c7d0"/><rect x="1036" y="194" width="2" height="27.7" fill="#f3a3ad"/><rect x="1040" y="218" width="2" height="15.8" fill="#f3a3ad"/><rect x="1060" y="238" width="2" height="23.6" fill="#f3a3ad"/><rect x="1066" y="256" width="2" height="17.8" fill="#f3a3ad"/><rect x="1070" y="254" width="2" height="25.6" fill="#a3c7d0"/><rect x="1076" y="250" width="2" height="15.8" fill="#a3c7d0"/><rect x="1096" y="194" width="2" height="18" fill="#f3a3ad"/><rect x="1106" y="214" width="2" height="26" fill="#f3a3ad"/><rect x="1110" y="218" width="2" height="31.5" fill="#a3c7d0"/><rect x="1124" y="222" width="2" height="15" fill="#f3a3ad"/><rect x="1130" y="234" width="2" height="17" fill="#f3a3ad"/><rect x="1134" y="250" width="2" height="17" fill="#a3c7d0"/><rect x="1144" y="274" width="2" height="7" fill="#a3c7d0"/><rect x="1150" y="280" width="2" height="15.9" fill="#f3a3ad"/><rect x="1154" y="296" width="2" height="12.8" fill="#a3c7d0"/><rect x="1160" y="292" width="2" height="31.7" fill="#f3a3ad"/><rect x="1164" y="310" width="2" height="11.7" fill="#f3a3ad"/><rect x="1170" y="320" width="2" height="15.7" fill="#f3a3ad"/><rect x="1174" y="340" width="2" height="6.9" fill="#a3c7d0"/><rect x="1179" y="334" width="2" height="27.8" fill="#a3c7d0"/><rect x="1190" y="360" width="2" height="13" fill="#a3c7d0"/><rect x="1194" y="370" width="2" height="16.9" fill="#a3c7d0"/><rect x="1200" y="368" width="2" height="32" fill="#a3c7d0"/><rect x="1204" y="369" width="2" height="12.5" fill="#a3c7d0"/><rect x="1220" y="352" width="2" height="29.7" fill="#a3c7d0"/><rect x="1224" y="352" width="2" height="16" fill="#f3a3ad"/><rect x="1236" y="356" width="2" height="17.6" fill="#a3c7d0"/><rect x="1243" y="366" width="2" height="9" fill="#f3a3ad"/><rect x="1248" y="356" width="2" height="25.7" fill="#f3a3ad"/><rect x="1334" y="356" width="2" height="25.8" fill="#a3c7d0"/><rect x="1338" y="358" width="2" height="17.7" fill="#f3a3ad"/><rect x="1344" y="368" width="2" height="10.9" fill="#a3c7d0"/><rect x="1586" y="494" width="2" height="29.8" fill="#f3a3ad"/><rect x="1592" y="518" width="2" height="13.8" fill="#f3a3ad"/><rect x="1596" y="524" width="2" height="21.5" fill="#a3c7d0"/><rect x="1602" y="522" width="2" height="22" fill="#f3a3ad"/><rect x="1606" y="528" width="2" height="16" fill="#f3a3ad"/><rect x="1612" y="524" width="2" height="25.8" fill="#a3c7d0"/><rect x="1616" y="514" width="2" height="21.7" fill="#f3a3ad"/><rect x="1622" y="520" width="2" height="19.6" fill="#f3a3ad"/><rect x="1626" y="524" width="2" height="17.6" fill="#a3c7d0"/><rect x="1632" y="518" width="2" height="23.6" fill="#a3c7d0"/><rect x="1636" y="512" width="2" height="9.6" fill="#f3a3ad"/><rect x="1640" y="500" width="2" height="19" fill="#a3c7d0"/><rect x="1646" y="492" width="2" height="19.8" fill="#f3a3ad"/><rect x="1650.8" y="496" width="2" height="19.8" fill="#a3c7d0"/><rect x="1656" y="488" width="2" height="18" fill="#a3c7d0"/><rect x="1660" y="484" width="2" height="19.8" fill="#f3a3ad"/><rect x="1670" y="484" width="2" height="18" fill="#f3a3ad"/><rect x="1676" y="494" width="2" height="16" fill="#f3a3ad"/><rect x="1680" y="506" width="2" height="18" fill="#f3a3ad"/><rect x="1685" y="504" width="2" height="13.9" fill="#f3a3ad"/><rect x="1696" y="510" width="2" height="17.9" fill="#a3c7d0"/><rect x="1700" y="512" width="2" height="11.8" fill="#a3c7d0"/><rect x="1706" y="512" width="2" height="19.8" fill="#f3a3ad"/><rect x="1710" y="524" width="2" height="21.9" fill="#f3a3ad"/><rect x="1716" y="528" width="2" height="13.6" fill="#f3a3ad"/><rect x="1719.5" y="524" width="2" height="20" fill="#f3a3ad"/><rect x="1725.9" y="520" width="2" height="20" fill="#a3c7d0"/><rect x="1735.9" y="520" width="2" height="20" fill="#f3a3ad"/><rect x="1739.9" y="522" width="2" height="16" fill="#a3c7d0"/><rect x="1745.8" y="514" width="2" height="24" fill="#a3c7d0"/><rect x="1754.9" y="496" width="2" height="10" fill="#f3a3ad"/><rect x="1759.9" y="496" width="2" height="20" fill="#f3a3ad"/><rect x="1763.9" y="492" width="2" height="22" fill="#a3c7d0"/><rect x="1771" y="478" width="2" height="29.7" fill="#a3c7d0"/><rect x="1780" y="464" width="2" height="25.5" fill="#f3a3ad"/><rect x="1785" y="462" width="2" height="23.7" fill="#a3c7d0"/><rect x="1790" y="451" width="2" height="14.5" fill="#a3c7d0"/><rect x="1793.9" y="438" width="2" height="11.7" fill="#a3c7d0"/><rect x="1800" y="424" width="2" height="31.6" fill="#f3a3ad"/><rect x="1804" y="418" width="2" height="31" fill="#f3a3ad"/><rect x="1810" y="430" width="2" height="25.6" fill="#a3c7d0"/><rect x="1813.9" y="430" width="2" height="31.4" fill="#a3c7d0"/><rect x="1819.9" y="424" width="2" height="23.7" fill="#f3a3ad"/><rect x="1824.1" y="422" width="2" height="23.6" fill="#a3c7d0"/><rect x="1830.1" y="411.7" width="2" height="25.7" fill="#f3a3ad"/><rect x="1834.9" y="411.7" width="2" height="25.7" fill="#a3c7d0"/><rect x="1840" y="417.8" width="2" height="23.2" fill="#f3a3ad"/><rect x="1843.9" y="428" width="2" height="23.5" fill="#f3a3ad"/><rect x="1850.1" y="442" width="2" height="15.6" fill="#f3a3ad"/><rect x="1854.9" y="446" width="2" height="25.6" fill="#a3c7d0"/><rect x="1864" y="426" width="2" height="23.7" fill="#a3c7d0"/><rect x="1870" y="420" width="2" height="27.7" fill="#f3a3ad"/><rect x="1873.9" y="436" width="2" height="21" fill="#a3c7d0"/><rect x="1879" y="444" width="2" height="17" fill="#f3a3ad"/><rect x="1890" y="456" width="2" height="27.7" fill="#a3c7d0"/><rect x="1893.2" y="464" width="2" height="11" fill="#a3c7d0"/><rect x="1898" y="460" width="2" height="27.8" fill="#f3a3ad"/><rect x="1903.9" y="476" width="2" height="24" fill="#f3a3ad"/><rect x="1908" y="480" width="2" height="26" fill="#a3c7d0"/><rect x="1913.9" y="470" width="2" height="20" fill="#f3a3ad"/><rect x="1918" y="466" width="2" height="30" fill="#a3c7d0"/><rect x="1928.2" y="474" width="2" height="18" fill="#f3a3ad"/><rect x="1937.9" y="500" width="2" height="11.8" fill="#a3c7d0"/><rect x="1943.8" y="498" width="2" height="24" fill="#f3a3ad"/><rect x="1947.8" y="516" width="2" height="14" fill="#f3a3ad"/><rect x="1953" y="528" width="2" height="15" fill="#a3c7d0"/><rect x="1963.9" y="513" width="2" height="8.7" fill="#a3c7d0"/><rect x="1978" y="476.8" width="2" height="4.9" fill="#a3c7d0"/><rect x="1984" y="462" width="2" height="31.6" fill="#f3a3ad"/><rect x="1998" y="458" width="2" height="10" fill="#f3a3ad"/><rect x="2003" y="452" width="2" height="29.7" fill="#a3c7d0"/><rect x="2008" y="460" width="2" height="26" fill="#a3c7d0"/><rect x="2014" y="454" width="2" height="24.9" fill="#a3c7d0"/><rect x="2024" y="402" width="2" height="21.8" fill="#f3a3ad"/><rect x="2027" y="414" width="2" height="13" fill="#f3a3ad"/><rect x="2032" y="408" width="2" height="12" fill="#a3c7d0"/><rect x="2048" y="394" width="2" height="26" fill="#a3c7d0"/><rect x="2052" y="387" width="2" height="7" fill="#a3c7d0"/><rect x="2058" y="370.7" width="2" height="16.9" fill="#f3a3ad"/><rect x="2062" y="370.7" width="2" height="21.1" fill="#f3a3ad"/><rect x="2072" y="360" width="2" height="21.7" fill="#f3a3ad"/><rect x="2078" y="352" width="2" height="29.7" fill="#a3c7d0"/><rect x="2082" y="342" width="2" height="29.7" fill="#a3c7d0"/><rect x="2087" y="354" width="2" height="17.4" fill="#f3a3ad"/><rect x="2092" y="366" width="2" height="13.9" fill="#f3a3ad"/><rect x="2097" y="376" width="2" height="17" fill="#a3c7d0"/><rect x="2102" y="378" width="2" height="24" fill="#f3a3ad"/><rect x="2108" y="394" width="2" height="13" fill="#f3a3ad"/><rect x="2112" y="390" width="2" height="30" fill="#f3a3ad"/><rect x="2118" y="402" width="2" height="26" fill="#a3c7d0"/><rect x="2122" y="398" width="2" height="12" fill="#a3c7d0"/><rect x="2128" y="394" width="2" height="23.8" fill="#f3a3ad"/><rect x="2132" y="398" width="2" height="30" fill="#f3a3ad"/><rect x="2138" y="400" width="2" height="28" fill="#f3a3ad"/><rect x="2142" y="420" width="2" height="17" fill="#f3a3ad"/><rect x="2152" y="458" width="2" height="9" fill="#a3c7d0"/><rect x="2158" y="450" width="2" height="23.7" fill="#a3c7d0"/><rect x="2162" y="442" width="2" height="15.8" fill="#f3a3ad"/><rect x="2166" y="446" width="2" height="21.7" fill="#f3a3ad"/><rect x="2172" y="466" width="2" height="15" fill="#a3c7d0"/><rect x="2176" y="470" width="2" height="21.7" fill="#a3c7d0"/><rect x="2186" y="448" width="2" height="30" fill="#f3a3ad"/><rect x="2192" y="452" width="2" height="26" fill="#a3c7d0"/><rect x="2201" y="432" width="2" height="13.8" fill="#a3c7d0"/><rect x="2206" y="420" width="2" height="31.6" fill="#f3a3ad"/><rect x="2212" y="426" width="2" height="15" fill="#a3c7d0"/><rect x="2216" y="442" width="2" height="15.8" fill="#f3a3ad"/><rect x="2222" y="438.5" width="2" height="23.2" fill="#a3c7d0"/><rect x="2226" y="430" width="2" height="21.6" fill="#a3c7d0"/><rect x="2232" y="432" width="2" height="19.6" fill="#f3a3ad"/><rect x="2236" y="430" width="2" height="19.6" fill="#a3c7d0"/><rect x="2242" y="434" width="2" height="22" fill="#f3a3ad"/><rect x="2246" y="430" width="2" height="26" fill="#a3c7d0"/><rect x="2252" y="420" width="2" height="14" fill="#f3a3ad"/><rect x="2256" y="416" width="2" height="23.8" fill="#a3c7d0"/><rect x="2262" y="422" width="2" height="18" fill="#f3a3ad"/><rect x="2266" y="418" width="2" height="21.6" fill="#a3c7d0"/><rect x="2272" y="410" width="2" height="27" fill="#f3a3ad"/><rect x="2276" y="422" width="2" height="17.6" fill="#f3a3ad"/><rect x="2282" y="424" width="2" height="26" fill="#f3a3ad"/><rect x="2286" y="434" width="2" height="27.7" fill="#f3a3ad"/><rect x="2292" y="450" width="2" height="21.5" fill="#a3c7d0"/><rect x="2296" y="448" width="2" height="14" fill="#f3a3ad"/><rect x="2301" y="452" width="2" height="23.8" fill="#f3a3ad"/><rect x="2306" y="456" width="2" height="19.8" fill="#a3c7d0"/><rect x="2316" y="434" width="2" height="22" fill="#f3a3ad"/><rect x="2320" y="432" width="2" height="31.8" fill="#a3c7d0"/><rect x="2330" y="426" width="2" height="20" fill="#f3a3ad"/><rect x="2336" y="422" width="2" height="26" fill="#f3a3ad"/><rect x="2346" y="448" width="2" height="15" fill="#a3c7d0"/><rect x="2350" y="454" width="2" height="25.7" fill="#f3a3ad"/><rect x="1367" y="380" width="2" height="6.8" fill="#a3c7d0"/><rect x="-1" y="761.8" width="4" height="2" fill="#53b987"/><rect x="1.5" y="760" width="6" height="3" fill="#53b987"/><rect x="6" y="742" width="6" height="27" fill="#53b987"/><rect x="13" y="736.5" width="4" height="2" fill="#53b987"/><rect x="17.5" y="722" width="4" height="2" fill="#53b987"/><rect x="21.5" y="706" width="6" height="7.5" fill="#53b987"/><rect x="27.5" y="692" width="4" height="2" fill="#53b987"/><rect x="32.5" y="678" width="4" height="2" fill="#53b987"/><rect x="37.5" y="664" width="4" height="2" fill="#53b987"/><rect x="41" y="634" width="6" height="18" fill="#53b987"/><rect x="46" y="624" width="6" height="3.5" fill="#53b987"/><rect x="51.5" y="614" width="4" height="2" fill="#53b987"/><rect x="56" y="600" width="6" height="32" fill="#eb4d5c"/><rect x="61.5" y="638" width="4" height="2" fill="#53b987"/><rect x="66" y="636" width="6" height="16" fill="#eb4d5c"/><rect x="70.5" y="646" width="6" height="4" fill="#eb4d5c"/><rect x="76" y="650" width="6" height="7.6" fill="#eb4d5c"/><rect x="80.5" y="638" width="6" height="15.6" fill="#53b987"/><rect x="86" y="626" width="6" height="7.6" fill="#53b987"/><rect x="90.5" y="614" width="6" height="5.6" fill="#53b987"/><rect x="97" y="600" width="4" height="2" fill="#53b987"/><rect x="100.5" y="586" width="6" height="31.7" fill="#53b987"/><rect x="106.5" y="581.7" width="4" height="2" fill="#53b987"/><rect x="110" y="568" width="6" height="15.4" fill="#eb4d5c"/><rect x="115" y="582" width="6" height="5.7" fill="#53b987"/><rect x="120" y="580" width="6" height="15.6" fill="#eb4d5c"/><rect x="125.5" y="600" width="6" height="5.5" fill="#53b987"/><rect x="130.5" y="586" width="6" height="11.5" fill="#53b987"/><rect x="135.5" y="574" width="6" height="11.5" fill="#eb4d5c"/><rect x="140" y="582" width="6" height="11.7" fill="#eb4d5c"/><rect x="146.5" y="592" width="4" height="2" fill="#eb4d5c"/><rect x="150" y="600" width="6" height="9.6" fill="#eb4d5c"/><rect x="155.5" y="608" width="6" height="11.6" fill="#eb4d5c"/><rect x="160" y="614" width="6" height="16" fill="#53b987"/><rect x="166" y="599" width="4" height="2" fill="#53b987"/><rect x="170" y="590" width="6" height="27.7" fill="#eb4d5c"/><rect x="174.5" y="612" width="6" height="12" fill="#53b987"/><rect x="180" y="604" width="6" height="5.6" fill="#53b987"/><rect x="184.5" y="600" width="6" height="5.5" fill="#eb4d5c"/><rect x="190" y="596" width="6" height="11.4" fill="#eb4d5c"/><rect x="195.5" y="603.6" width="4" height="2" fill="#53b987"/><rect x="200" y="590" width="6" height="11.8" fill="#53b987"/><rect x="205.5" y="580" width="4" height="2" fill="#53b987"/><rect x="210" y="570" width="6" height="22" fill="#eb4d5c"/><rect x="215" y="592" width="4" height="2" fill="#53b987"/><rect x="220" y="584" width="6" height="8" fill="#eb4d5c"/><rect x="224.5" y="576" width="6" height="8" fill="#53b987"/><rect x="231" y="566" width="4" height="2" fill="#53b987"/><rect x="235.5" y="554" width="4" height="2" fill="#53b987"/><rect x="240" y="550" width="4" height="2" fill="#53b987"/><rect x="243.6" y="546.3" width="6" height="13.5" fill="#eb4d5c"/><rect x="249" y="542" width="6" height="19.7" fill="#53b987"/><rect x="254.7" y="531.8" width="4" height="2" fill="#53b987"/><rect x="259.4" y="516" width="6" height="21.9" fill="#53b987"/><rect x="264" y="507.9" width="4" height="2" fill="#53b987"/><rect x="271" y="495.9" width="4" height="2" fill="#53b987"/><rect x="275" y="492" width="4" height="2" fill="#eb4d5c"/><rect x="280" y="478" width="6" height="3.7" fill="#53b987"/><rect x="284" y="468" width="6" height="5.7" fill="#eb4d5c"/><rect x="290" y="462" width="6" height="5.7" fill="#eb4d5c"/><rect x="294" y="444" width="6" height="17.7" fill="#53b987"/><rect x="300" y="434" width="4" height="2" fill="#53b987"/><rect x="304" y="426" width="6" height="27.6" fill="#eb4d5c"/><rect x="308" y="440" width="6" height="27.5" fill="#53b987"/><rect x="314" y="435.8" width="4" height="2" fill="#53b987"/><rect x="318" y="421.8" width="4" height="2" fill="#53b987"/><rect x="323" y="418" width="6" height="13.6" fill="#eb4d5c"/><rect x="327" y="414" width="6" height="31.6" fill="#eb4d5c"/><rect x="334" y="445.8" width="6" height="7.8" fill="#53b987"/><rect x="339" y="435.8" width="4" height="2" fill="#53b987"/><rect x="345" y="421.8" width="4" height="2" fill="#53b987"/><rect x="348" y="412" width="6" height="4" fill="#53b987"/><rect x="354" y="398" width="6" height="31.7" fill="#eb4d5c"/><rect x="359" y="434" width="4" height="2" fill="#53b987"/><rect x="364" y="448" width="4" height="2" fill="#53b987"/><rect x="369" y="454" width="4" height="2" fill="#53b987"/><rect x="373" y="454" width="4" height="2" fill="#53b987"/><rect x="377" y="438" width="6" height="21.6" fill="#53b987"/><rect x="383" y="438" width="6" height="25.6" fill="#eb4d5c"/><rect x="388" y="465.7" width="4" height="2" fill="#53b987"/><rect x="393" y="481.7" width="4" height="2" fill="#53b987"/><rect x="397" y="474" width="6" height="21.8" fill="#53b987"/><rect x="403" y="470" width="6" height="7.6" fill="#eb4d5c"/><rect x="408" y="476" width="6" height="11.7" fill="#eb4d5c"/><rect x="414" y="478" width="6" height="23.8" fill="#eb4d5c"/><rect x="419" y="484" width="6" height="16" fill="#53b987"/><rect x="425" y="472" width="4" height="2" fill="#53b987"/><rect x="429" y="458" width="4" height="2" fill="#53b987"/><rect x="433" y="444" width="6" height="31.7" fill="#53b987"/><rect x="438" y="432" width="6" height="9.5" fill="#53b987"/><rect x="443" y="418" width="4" height="2" fill="#53b987"/><rect x="449" y="410" width="4" height="2" fill="#53b987"/><rect x="453" y="402" width="4" height="2" fill="#53b987"/><rect x="459" y="387.7" width="4" height="2" fill="#53b987"/><rect x="463" y="373.9" width="4" height="2" fill="#53b987"/><rect x="468.6" y="357.8" width="4" height="2" fill="#53b987"/><rect x="472" y="357.8" width="6" height="15.9" fill="#eb4d5c"/><rect x="478" y="356" width="6" height="29.5" fill="#53b987"/><rect x="483" y="343.7" width="4" height="2" fill="#53b987"/><rect x="488.8" y="327.8" width="4" height="2" fill="#53b987"/><rect x="493" y="313.8" width="4" height="2" fill="#53b987"/><rect x="499" y="299.7" width="4" height="2" fill="#53b987"/><rect x="502.8" y="285.9" width="4" height="2" fill="#53b987"/><rect x="508.8" y="270" width="4" height="2" fill="#53b987"/><rect x="513" y="255.7" width="4" height="2" fill="#53b987"/><rect x="518.8" y="241.9" width="4" height="2" fill="#53b987"/><rect x="522.9" y="227.9" width="4" height="2" fill="#53b987"/><rect x="528.9" y="223.9" width="4" height="2" fill="#53b987"/><rect x="533" y="214" width="4" height="2" fill="#53b987"/><rect x="538.8" y="200" width="4" height="2" fill="#53b987"/><rect x="543" y="188" width="4" height="2" fill="#53b987"/><rect x="548.7" y="173.9" width="4" height="2" fill="#53b987"/><rect x="552" y="162" width="6" height="9.8" fill="#53b987"/><rect x="558.9" y="147.8" width="4" height="2" fill="#53b987"/><rect x="562.8" y="133.8" width="4" height="2" fill="#53b987"/><rect x="568.9" y="119.9" width="4" height="2" fill="#53b987"/><rect x="572.5" y="105.9" width="4" height="2" fill="#53b987"/><rect x="575.8" y="91.9" width="6" height="23.9" fill="#eb4d5c"/><rect x="581.9" y="86.1" width="6" height="31.5" fill="#53b987"/><rect x="587" y="81.9" width="4" height="2" fill="#53b987"/><rect x="593" y="69.8" width="4" height="2" fill="#53b987"/><rect x="597" y="55.8" width="4" height="2" fill="#53b987"/><rect x="602.9" y="41.8" width="4" height="2" fill="#53b987"/><rect x="606" y="28.3" width="6" height="5.4" fill="#eb4d5c"/><rect x="612.6" y="47.7" width="4" height="2" fill="#53b987"/><rect x="616" y="38" width="6" height="23.5" fill="#eb4d5c"/><rect x="622.9" y="68" width="4" height="2" fill="#53b987"/><rect x="626.9" y="73.9" width="4" height="2" fill="#53b987"/><rect x="632.8" y="77.8" width="4" height="2" fill="#53b987"/><rect x="636.9" y="91.7" width="4" height="2" fill="#53b987"/><rect x="642.8" y="101.8" width="4" height="2" fill="#53b987"/><rect x="646.9" y="105.9" width="4" height="2" fill="#53b987"/><rect x="653" y="121.8" width="4" height="2" fill="#53b987"/><rect x="657" y="121.8" width="4" height="2" fill="#53b987"/><rect x="662.5" y="121.8" width="4" height="2" fill="#53b987"/><rect x="665.8" y="118" width="6" height="21.8" fill="#eb4d5c"/><rect x="672.8" y="145.8" width="4" height="2" fill="#53b987"/><rect x="677" y="149.9" width="4" height="2" fill="#53b987"/><rect x="682.9" y="149.9" width="4" height="2" fill="#53b987"/><rect x="686.8" y="151.9" width="4" height="2" fill="#53b987"/><rect x="692.9" y="151.9" width="4" height="2" fill="#53b987"/><rect x="696.8" y="153.9" width="4" height="2" fill="#53b987"/><rect x="963" y="198" width="6" height="3.6" fill="#53b987"/><rect x="968" y="196" width="6" height="13.7" fill="#eb4d5c"/><rect x="974" y="188" width="6" height="21.7" fill="#53b987"/><rect x="978" y="188" width="6" height="13.6" fill="#eb4d5c"/><rect x="984" y="192" width="6" height="7.6" fill="#eb4d5c"/><rect x="988" y="182" width="6" height="12" fill="#53b987"/><rect x="994" y="180" width="6" height="21.6" fill="#eb4d5c"/><rect x="998" y="198" width="6" height="7.6" fill="#eb4d5c"/><rect x="1003" y="196" width="6" height="7.6" fill="#53b987"/><rect x="1008" y="184" width="6" height="17.6" fill="#eb4d5c"/><rect x="1014" y="182" width="6" height="19.6" fill="#53b987"/><rect x="1018" y="170" width="6" height="27.7" fill="#eb4d5c"/><rect x="1025" y="195.7" width="4" height="2" fill="#53b987"/><rect x="1029" y="204" width="4" height="2" fill="#53b987"/><rect x="1034" y="216" width="6" height="5.7" fill="#eb4d5c"/><rect x="1038" y="230" width="6" height="3.8" fill="#eb4d5c"/><rect x="1044" y="246" width="4" height="2" fill="#53b987"/><rect x="1048" y="228" width="6" height="31.7" fill="#53b987"/><rect x="1054" y="224" width="6" height="27.8" fill="#eb4d5c"/><rect x="1058" y="244" width="6" height="17.6" fill="#eb4d5c"/><rect x="1064" y="270" width="6" height="3.8" fill="#eb4d5c"/><rect x="1068" y="258" width="6" height="19.8" fill="#53b987"/><rect x="1074" y="250" width="6" height="3.8" fill="#53b987"/><rect x="1079" y="238" width="4" height="2" fill="#53b987"/><rect x="1085" y="224" width="4" height="2" fill="#53b987"/><rect x="1089" y="210" width="4" height="2" fill="#53b987"/><rect x="1094" y="208" width="6" height="4" fill="#eb4d5c"/><rect x="1098" y="210" width="6" height="17.7" fill="#eb4d5c"/><rect x="1104" y="234" width="6" height="6" fill="#eb4d5c"/><rect x="1108" y="218" width="6" height="29.7" fill="#53b987"/><rect x="1115" y="216" width="4" height="2" fill="#53b987"/><rect x="1118" y="202" width="6" height="31.8" fill="#eb4d5c"/><rect x="1123" y="236" width="4" height="2" fill="#eb4d5c"/><rect x="1129" y="250" width="4" height="2" fill="#eb4d5c"/><rect x="1133" y="266" width="4" height="2" fill="#53b987"/><rect x="1139" y="278" width="4" height="2" fill="#53b987"/><rect x="1143" y="280" width="4" height="2" fill="#53b987"/><rect x="1148" y="284.2" width="6" height="11.7" fill="#eb4d5c"/><rect x="1153" y="307.8" width="4" height="2" fill="#53b987"/><rect x="1158" y="308" width="6" height="9.7" fill="#eb4d5c"/><rect x="1162" y="316" width="6" height="5.7" fill="#eb4d5c"/><rect x="1168" y="332" width="6" height="3.7" fill="#eb4d5c"/><rect x="1173" y="345.9" width="4" height="2" fill="#53b987"/><rect x="1177" y="338" width="6" height="9.6" fill="#53b987"/><rect x="1182" y="334" width="6" height="29.8" fill="#eb4d5c"/><rect x="1189" y="372" width="4" height="2" fill="#53b987"/><rect x="1193" y="385.9" width="4" height="2" fill="#53b987"/><rect x="1198" y="368" width="6" height="13.7" fill="#53b987"/><rect x="1203" y="368" width="4" height="2" fill="#53b987"/><rect x="1208" y="354" width="4" height="2" fill="#53b987"/><rect x="1212" y="342" width="6" height="31.6" fill="#eb4d5c"/><rect x="1218" y="364" width="6" height="6" fill="#53b987"/><rect x="1222" y="352" width="6" height="9.8" fill="#eb4d5c"/><rect x="1228" y="356" width="6" height="11.8" fill="#eb4d5c"/><rect x="1232" y="370" width="4" height="2" fill="#53b987"/><rect x="1234" y="370" width="6" height="3.6" fill="#53b987"/><rect x="1242" y="374" width="4" height="2" fill="#eb4d5c"/><rect x="1247" y="368" width="4" height="2" fill="#eb4d5c"/><rect x="1332" y="362" width="6" height="19.8" fill="#53b987"/><rect x="1336" y="368" width="6" height="7.7" fill="#eb4d5c"/><rect x="1343" y="377.9" width="4" height="2" fill="#53b987"/><rect x="1347" y="382" width="4" height="2" fill="#eb4d5c"/><rect x="1353" y="383.8" width="4" height="2" fill="#53b987"/><rect x="1357" y="385.8" width="4" height="2" fill="#53b987"/><rect x="1584" y="506" width="6" height="17.8" fill="#eb4d5c"/><rect x="1590" y="528" width="6" height="3.8" fill="#eb4d5c"/><rect x="1594" y="536" width="6" height="8" fill="#53b987"/><rect x="1600" y="532" width="6" height="9.8" fill="#eb4d5c"/><rect x="1604" y="540" width="6" height="2" fill="#eb4d5c"/><rect x="1610" y="524" width="6" height="14" fill="#53b987"/><rect x="1614" y="524" width="6" height="6" fill="#eb4d5c"/><rect x="1620" y="522" width="6" height="9.8" fill="#eb4d5c"/><rect x="1624" y="532" width="6" height="6" fill="#53b987"/><rect x="1630" y="518" width="6" height="13.8" fill="#53b987"/><rect x="1634" y="512" width="6" height="5.9" fill="#eb4d5c"/><rect x="1638" y="500" width="6" height="17.9" fill="#53b987"/><rect x="1644" y="494" width="6" height="17.8" fill="#eb4d5c"/><rect x="1648.8" y="500" width="6" height="11.8" fill="#53b987"/><rect x="1654" y="492" width="6" height="7.7" fill="#53b987"/><rect x="1658" y="484" width="6" height="7.9" fill="#eb4d5c"/><rect x="1664" y="482" width="6" height="20" fill="#eb4d5c"/><rect x="1668" y="492" width="6" height="7.7" fill="#eb4d5c"/><rect x="1674" y="500" width="6" height="10" fill="#eb4d5c"/><rect x="1678" y="514" width="6" height="5.8" fill="#eb4d5c"/><rect x="1683" y="508" width="6" height="9.9" fill="#eb4d5c"/><rect x="1688" y="504" width="6" height="19.8" fill="#eb4d5c"/><rect x="1694" y="520" width="6" height="7.9" fill="#53b987"/><rect x="1698" y="516" width="6" height="7.8" fill="#53b987"/><rect x="1704" y="518" width="6" height="13.8" fill="#eb4d5c"/><rect x="1708" y="530" width="6" height="6" fill="#eb4d5c"/><rect x="1714" y="536" width="6" height="4" fill="#eb4d5c"/><rect x="1718.5" y="536" width="4" height="2" fill="#eb4d5c"/><rect x="1723.9" y="520" width="6" height="13.7" fill="#53b987"/><rect x="1727.9" y="514" width="6" height="16" fill="#eb4d5c"/><rect x="1733.9" y="532" width="6" height="4" fill="#eb4d5c"/><rect x="1737.9" y="532" width="6" height="6" fill="#53b987"/><rect x="1743.8" y="518" width="6" height="13.8" fill="#53b987"/><rect x="1747.8" y="508" width="6" height="22" fill="#53b987"/><rect x="1752.9" y="498" width="6" height="4" fill="#eb4d5c"/><rect x="1757.9" y="496" width="6" height="14" fill="#eb4d5c"/><rect x="1761.9" y="492" width="6" height="16" fill="#53b987"/><rect x="1769" y="480" width="6" height="11.3" fill="#53b987"/><rect x="1772" y="472" width="6" height="8" fill="#53b987"/><rect x="1778" y="464" width="6" height="21.7" fill="#eb4d5c"/><rect x="1783" y="464" width="6" height="15.6" fill="#53b987"/><rect x="1789" y="450" width="4" height="2" fill="#53b987"/><rect x="1791.9" y="438" width="6" height="3.5" fill="#53b987"/><rect x="1798" y="426" width="6" height="21.7" fill="#eb4d5c"/><rect x="1803" y="448" width="4" height="2" fill="#eb4d5c"/><rect x="1808" y="446" width="6" height="3.7" fill="#53b987"/><rect x="1811.9" y="430" width="6" height="9.8" fill="#53b987"/><rect x="1817.9" y="424" width="6" height="10" fill="#eb4d5c"/><rect x="1822.1" y="422" width="6" height="12" fill="#53b987"/><rect x="1828.1" y="417.8" width="6" height="17.9" fill="#eb4d5c"/><rect x="1832.9" y="432" width="6" height="3.7" fill="#53b987"/><rect x="1838" y="417.8" width="6" height="22" fill="#eb4d5c"/><rect x="1841.9" y="438" width="6" height="9.7" fill="#eb4d5c"/><rect x="1848.1" y="448" width="6" height="9.6" fill="#eb4d5c"/><rect x="1852.9" y="452" width="6" height="5.6" fill="#53b987"/><rect x="1858" y="440" width="6" height="9.7" fill="#53b987"/><rect x="1862" y="430" width="6" height="7.7" fill="#53b987"/><rect x="1868" y="424" width="6" height="23.7" fill="#eb4d5c"/><rect x="1872.9" y="453.8" width="4" height="2" fill="#53b987"/><rect x="1877" y="454" width="6" height="5.7" fill="#eb4d5c"/><rect x="1882" y="452" width="6" height="19.6" fill="#eb4d5c"/><rect x="1888" y="472" width="6" height="7.6" fill="#53b987"/><rect x="1891.2" y="466" width="6" height="3.6" fill="#53b987"/><rect x="1896" y="466" width="6" height="21.8" fill="#eb4d5c"/><rect x="1901.9" y="482" width="6" height="15.7" fill="#eb4d5c"/><rect x="1906" y="480" width="6" height="7.8" fill="#53b987"/><rect x="1911.9" y="480" width="6" height="6" fill="#eb4d5c"/><rect x="1916" y="482" width="6" height="14" fill="#53b987"/><rect x="1921.9" y="472" width="6" height="10" fill="#eb4d5c"/><rect x="1926.2" y="474" width="6" height="15.5" fill="#eb4d5c"/><rect x="1932" y="478" width="6" height="22" fill="#eb4d5c"/><rect x="1935.9" y="504" width="6" height="3.7" fill="#53b987"/><rect x="1941.8" y="514" width="6" height="6" fill="#eb4d5c"/><rect x="1945.8" y="524" width="6" height="6" fill="#eb4d5c"/><rect x="1951" y="536" width="6" height="7" fill="#53b987"/><rect x="1956" y="528" width="6" height="19.7" fill="#53b987"/><rect x="1962.9" y="512" width="4" height="2" fill="#53b987"/><rect x="1967" y="498" width="4" height="2" fill="#53b987"/><rect x="1973" y="484" width="4" height="2" fill="#53b987"/><rect x="1977" y="475.8" width="4" height="2" fill="#53b987"/><rect x="1982" y="464" width="6" height="7.9" fill="#eb4d5c"/><rect x="1986" y="458" width="6" height="29.6" fill="#53b987"/><rect x="1992" y="448" width="6" height="14" fill="#eb4d5c"/><rect x="1996" y="462" width="6" height="6" fill="#eb4d5c"/><rect x="2001" y="474" width="6" height="7.7" fill="#53b987"/><rect x="2006" y="472" width="6" height="4.8" fill="#53b987"/><rect x="2012" y="458" width="6" height="20.9" fill="#53b987"/><rect x="2016" y="442" width="6" height="15.8" fill="#53b987"/><rect x="2022" y="416" width="6" height="5.6" fill="#eb4d5c"/><rect x="2025" y="420" width="6" height="3.8" fill="#eb4d5c"/><rect x="2030" y="408" width="6" height="3.7" fill="#53b987"/><rect x="2037" y="424" width="4" height="2" fill="#53b987"/><rect x="2040" y="406" width="6" height="15.6" fill="#53b987"/><rect x="2046" y="394" width="6" height="13.7" fill="#53b987"/><rect x="2051" y="386" width="4" height="2" fill="#53b987"/><rect x="2056" y="370" width="6" height="12" fill="#eb4d5c"/><rect x="2060" y="376" width="6" height="15.8" fill="#eb4d5c"/><rect x="2066" y="372" width="6" height="17.7" fill="#53b987"/><rect x="2070" y="360" width="6" height="13.8" fill="#eb4d5c"/><rect x="2076" y="354" width="6" height="13.6" fill="#53b987"/><rect x="2081" y="355.7" width="4" height="2" fill="#53b987"/><rect x="2085" y="356" width="6" height="9.8" fill="#eb4d5c"/><rect x="2090" y="372" width="6" height="7.9" fill="#eb4d5c"/><rect x="2096" y="392" width="4" height="2" fill="#53b987"/><rect x="2100" y="384" width="6" height="18" fill="#eb4d5c"/><rect x="2106" y="402" width="6" height="5" fill="#eb4d5c"/><rect x="2110" y="402" width="6" height="18" fill="#eb4d5c"/><rect x="2116" y="412" width="6" height="8" fill="#53b987"/><rect x="2120" y="404" width="6" height="4" fill="#53b987"/><rect x="2126" y="400" width="6" height="17.8" fill="#eb4d5c"/><rect x="2130" y="404" width="6" height="7.5" fill="#eb4d5c"/><rect x="2136" y="410" width="6" height="18" fill="#eb4d5c"/><rect x="2141" y="436" width="4" height="2" fill="#eb4d5c"/><rect x="2147" y="450" width="4" height="2" fill="#53b987"/><rect x="2151" y="466" width="4" height="2" fill="#53b987"/><rect x="2156" y="454" width="6" height="13.7" fill="#53b987"/><rect x="2160" y="444" width="6" height="10" fill="#eb4d5c"/><rect x="2164" y="452" width="6" height="15.7" fill="#eb4d5c"/><rect x="2171" y="480" width="4" height="2" fill="#53b987"/><rect x="2174" y="474.5" width="6" height="3.5" fill="#53b987"/><rect x="2180" y="460" width="6" height="18" fill="#53b987"/><rect x="2184" y="452" width="6" height="17.4" fill="#eb4d5c"/><rect x="2190" y="454" width="6" height="24" fill="#53b987"/><rect x="2194" y="446" width="6" height="15.7" fill="#53b987"/><rect x="2199" y="432" width="6" height="4" fill="#53b987"/><rect x="2204" y="430" width="6" height="7.6" fill="#eb4d5c"/><rect x="2211" y="440" width="4" height="2" fill="#53b987"/><rect x="2214" y="454" width="6" height="3.8" fill="#eb4d5c"/><rect x="2220" y="446" width="6" height="10" fill="#53b987"/><rect x="2224" y="438" width="6" height="7.8" fill="#53b987"/><rect x="2230" y="440" width="6" height="9.6" fill="#eb4d5c"/><rect x="2235" y="440" width="4" height="2" fill="#53b987"/><rect x="2240" y="444" width="6" height="3.8" fill="#eb4d5c"/><rect x="2244" y="430" width="6" height="7.6" fill="#53b987"/><rect x="2250" y="420" width="6" height="11.9" fill="#eb4d5c"/><rect x="2255" y="432" width="4" height="2" fill="#53b987"/><rect x="2260" y="426" width="6" height="10" fill="#eb4d5c"/><rect x="2264" y="420" width="6" height="19.6" fill="#53b987"/><rect x="2270" y="418" width="6" height="18" fill="#eb4d5c"/><rect x="2274" y="436" width="6" height="3.6" fill="#eb4d5c"/><rect x="2280" y="438" width="6" height="11.6" fill="#eb4d5c"/><rect x="2284" y="444" width="6" height="17.7" fill="#eb4d5c"/><rect x="2290" y="458" width="6" height="8" fill="#53b987"/><rect x="2294" y="454" width="6" height="7.7" fill="#eb4d5c"/><rect x="2299" y="460" width="6" height="5.7" fill="#eb4d5c"/><rect x="2304" y="456" width="6" height="15.7" fill="#53b987"/><rect x="2309" y="446" width="6" height="10" fill="#53b987"/><rect x="2314" y="436" width="6" height="18" fill="#eb4d5c"/><rect x="2318" y="432" width="6" height="17.6" fill="#53b987"/><rect x="2324" y="422" width="6" height="23.8" fill="#eb4d5c"/><rect x="2329" y="433.6" width="4" height="2" fill="#eb4d5c"/><rect x="2334" y="432" width="6" height="11.6" fill="#eb4d5c"/><rect x="2338" y="434" width="6" height="17.6" fill="#eb4d5c"/><rect x="2345" y="462" width="4" height="2" fill="#53b987"/><rect x="2348" y="472" width="6" height="7.7" fill="#eb4d5c"/><rect x="653" y="121.8" width="8" height="2" fill="#53b987"/><rect x="703" y="154" width="12" height="2" fill="#53b987"/><rect x="717" y="155.9" width="7.7" height="2" fill="#53b987"/><rect x="727" y="155.9" width="3.5" height="2" fill="#53b987"/><rect x="731" y="157.9" width="4" height="2" fill="#53b987"/><rect x="737" y="157.9" width="7.7" height="2" fill="#53b987"/><rect x="747" y="157.9" width="4" height="2" fill="#53b987"/><rect x="751" y="174" width="4" height="2" fill="#53b987"/><rect x="757" y="166" width="7.8" height="2" fill="#53b987"/><rect x="767" y="166" width="8" height="2" fill="#53b987"/><rect x="777" y="166" width="8" height="2" fill="#53b987"/><rect x="787" y="166" width="8" height="2" fill="#53b987"/><rect x="797" y="166" width="4" height="2" fill="#53b987"/><rect x="801" y="168" width="4" height="2" fill="#53b987"/><rect x="807" y="168" width="4" height="2" fill="#53b987"/><rect x="811" y="174" width="4" height="2" fill="#53b987"/><rect x="817" y="174" width="4" height="2" fill="#53b987"/><rect x="821" y="180" width="4" height="2" fill="#53b987"/><rect x="827" y="180" width="12" height="2" fill="#53b987"/><rect x="841" y="180" width="8" height="2" fill="#53b987"/><rect x="851" y="180" width="8" height="2" fill="#53b987"/><rect x="861" y="180" width="8" height="2" fill="#53b987"/><rect x="871" y="180" width="8" height="2" fill="#53b987"/><rect x="881" y="198" width="4" height="2" fill="#53b987"/><rect x="885" y="182" width="4" height="2" fill="#53b987"/><rect x="891" y="182" width="8" height="2" fill="#53b987"/><rect x="901" y="186" width="8" height="2" fill="#53b987"/><rect x="911" y="186" width="8" height="2" fill="#53b987"/><rect x="921" y="186" width="3.7" height="2" fill="#53b987"/><rect x="925" y="190" width="4" height="2" fill="#53b987"/><rect x="931" y="190" width="4" height="2" fill="#53b987"/><rect x="935" y="196" width="4" height="2" fill="#53b987"/><rect x="941" y="196" width="8" height="2" fill="#53b987"/><rect x="951" y="196" width="4" height="2" fill="#53b987"/><rect x="955" y="198" width="4" height="2" fill="#53b987"/><rect x="961" y="200" width="4" height="2" fill="#53b987"/><rect x="1253" y="366" width="4" height="2" fill="#53b987"/><rect x="1257" y="368" width="4" height="2" fill="#53b987"/><rect x="1263" y="368" width="8" height="2" fill="#53b987"/><rect x="1273" y="370" width="8" height="2" fill="#53b987"/><rect x="1283" y="370" width="8" height="2" fill="#53b987"/><rect x="1293" y="370" width="8" height="2" fill="#53b987"/><rect x="1303" y="371.8" width="8" height="2" fill="#53b987"/><rect x="1313" y="371.8" width="7.6" height="2" fill="#53b987"/><rect x="1323" y="371.8" width="4" height="2" fill="#53b987"/><rect x="1327" y="375.9" width="4" height="2" fill="#53b987"/><rect x="1363" y="385.8" width="7" height="2" fill="#53b987"/><rect x="1371" y="388" width="4" height="2" fill="#53b987"/><rect x="1377" y="388" width="8" height="2" fill="#53b987"/><rect x="1387" y="388" width="8" height="2" fill="#53b987"/><rect x="1397" y="388" width="8" height="2" fill="#53b987"/><rect x="1407" y="388" width="8" height="2" fill="#53b987"/><rect x="1417" y="388" width="4" height="2" fill="#53b987"/><rect x="1421" y="392" width="4" height="2" fill="#53b987"/><rect x="1427" y="392" width="8" height="2" fill="#53b987"/><rect x="1437" y="392" width="8" height="2" fill="#53b987"/><rect x="1447" y="392" width="8" height="2" fill="#53b987"/><rect x="1457" y="392" width="8" height="2" fill="#53b987"/><rect x="1467" y="392" width="8" height="2" fill="#53b987"/><rect x="1477" y="392" width="8" height="2" fill="#53b987"/><rect x="1487" y="392" width="4" height="2" fill="#53b987"/><rect x="1491" y="398" width="4" height="2" fill="#53b987"/><rect x="1497" y="398" width="12" height="2" fill="#53b987"/><rect x="1511" y="398" width="4" height="2" fill="#53b987"/><rect x="1515" y="402" width="4" height="2" fill="#53b987"/><rect x="1521" y="402" width="8" height="2" fill="#53b987"/><rect x="1531" y="406" width="8" height="2" fill="#53b987"/><rect x="1541" y="406" width="8" height="2" fill="#53b987"/><rect x="1551" y="406" width="4" height="2" fill="#53b987"/><rect x="1555" y="408" width="4" height="2" fill="#53b987"/><rect x="1561" y="414" width="8" height="2" fill="#53b987"/><rect x="1571" y="416" width="4" height="2" fill="#53b987"/><rect x="1575" y="420" width="4" height="2" fill="#53b987"/><rect x="1581" y="420" width="4" height="2" fill="#53b987"/></g>
<text x="2091.5" y="216.5" fill="#0d47a1" style="font-family:'DejaVu Sans',sans-serif;font-size:21px;font-weight:bold" direction="rtl" text-anchor="start" textLength="259" lengthAdjust="spacingAndGlyphs">انجمن خبرگان بورس تهران</text>
<text x="1832" y="247.6" fill="#0d47a1" style="font-family:'DejaVu Sans',sans-serif;font-size:28px;font-weight:bold" textLength="339" lengthAdjust="spacingAndGlyphs">Amoozesh-boors.com</text>
</g>
<g clip-path="url(#cr)">
<rect x="0" y="1035" width="2430" height="106" fill="#f0e4f2"/>
<line x1="0" y1="1035" x2="2430" y2="1035" stroke="#a89fac" stroke-width="2" stroke-dasharray="6 5"/>
<line x1="0" y1="1141" x2="2430" y2="1141" stroke="#a89fac" stroke-width="2" stroke-dasharray="6 5"/>
<polyline points="0,1073.9 4.5,1071 9,1057.4 14.7,1050.6 19.2,1039.3 29.4,1021.2 39.6,1006.5 43,995.2 53.2,988.9 58.8,1013.3 69,1045 72.8,1042.7 79.2,1052.9 83.7,1040.5 102.9,1012.9 113.1,1008.8 118.7,1008.8 123.3,1034.8 129.4,1042.7 133.4,1032.6 139.1,1031 143.2,1046.8 148.6,1046.8 153.1,1069.9 159,1083 163.3,1075.5 169,1062.6 173,1085.3 183.2,1070.6 187.7,1070.6 193.4,1074.4 197.9,1069.9 206.9,1046.8 213.1,1062 217.6,1067.2 222.8,1065.3 227.3,1049.5 233,1041.6 237,1030.3 243.1,1028.7 247,1042.7 256.7,1021.9 266.9,1006.5 273.7,1002 282.7,993 288.4,990.3 293.6,988.5 297.4,982.8 303.1,979 306.5,1017.4 312.1,1010.6 316.2,1009.3 320.7,1003.2 326.8,1019 330.7,1040.9 337,1042.7 350.6,1021.2 356.9,1046.1 363,1059.7 370.9,1076.7 377.3,1078.9 381.1,1063.1 386.8,1088 391.3,1093.6 396.9,1104.9 401.5,1097 407.1,1099.3 417.2,1118.5 421.3,1100.4 427,1090.7 431.5,1076.7 437.1,1066.5 445.1,1047.3 456.4,1034.8 460.9,1028.7 465.4,1020.1 471.1,1013.3 475.1,1034.8 484.6,1017.9 494.8,1004.7 500.5,1000.9 505,994.6 509.5,991.8 515.2,986.2 520.8,982.3 527.6,979.4 536.7,976 545.7,971.9 554.8,968.5 564.9,964.7 570.6,964.7 575.1,962.9 579,980.5 585.3,974.9 589.8,974.4 600,970.4 609,967 618.1,1020.1 628.3,1038.2 635,1045 638.9,1062 645.2,1073.3 649.3,1077.3 654.7,1090.7 660.6,1091.4 665.1,1092.9 669,1104.9 679.1,1114.7 688.2,1114.7 694.5,1116.9 704.7,1116.9 709.7,1118.7 723.3,1118.7 731.2,1121.9 738,1124.6 749.3,1124.6 753.1,1146.8 759.4,1123 788.8,1123 793.4,1124.6 803.1,1124.6 809.2,1129.4 813,1140.7 818.9,1142.2 823.4,1150.2 829,1152.4 852.8,1152.4 857.3,1154.7 876.5,1154.7 883.3,1186.4 886.9,1112.4 896.9,1112.4 903,1124.6 922.9,1124.6 927,1134.8 932.6,1134.8 936.9,1148.6 942.1,1150.6 956.8,1150.6 962.9,1156.3 967,1150.6 971.1,1172.8 976.7,1082.3 980.6,1114.7 986.9,1108.3 990.8,1069.9 996.4,1104.9 1000.9,1110.6 1006.6,1095.2 1011.1,1102.7 1016.8,1074.4 1020.8,1094.8 1026.5,1094.8 1040.5,1130.9 1046.9,1141.8 1050.7,1116.9 1056.3,1132.1 1062,1138.2 1067,1144.5 1071.1,1128.7 1076.7,1118.5 1086.9,1092.5 1091,1078.9 1097.1,1078.9 1100.9,1092.5 1105,1104.9 1110.6,1086.8 1115.2,1085 1120.8,1098.1 1125.3,1101.1 1134.4,1122.3 1141.2,1128.7 1145,1129.1 1154.7,1142.2 1170.6,1152.4 1175.1,1158.5 1180.7,1149 1185.3,1158.5 1190.9,1160.3 1195,1164.4 1201.1,1149 1205.6,1148.6 1210.8,1135 1215.4,1140.7 1224.9,1130.9 1230.5,1135 1239,1135 1244.7,1137 1249.2,1128.7 1268.4,1128.7 1275.2,1130.9 1297.9,1130.9 1304.6,1132.7 1325,1132.7 1329.1,1138.9 1334.7,1099.7 1339,1120.8 1344.2,1126 1349.4,1132.7 1355.5,1136.6 1368.4,1136.6 1373.2,1140.7 1417.7,1140.7 1422.7,1150.6 1489,1150.6 1492.8,1176.6 1499.1,1176.6 1503.7,1178.9 1512.7,1178.9 1516.8,1188.6 1521.8,1190.9 1526.7,1190.9 1533.1,1196.5 1543.2,1196.5 1547.8,1198.8 1556.8,1198.8 1563.6,1207.2 1567,1208.5 1572.6,1208.5 1577.2,1210.6 1582.8,1210.6 1586.9,1220.5 1607.3,1220.5 1612.9,1187 1617.2,1188.6 1626.9,1188.6 1633,1163.1 1637.1,1156.3 1640.5,1130.5 1646.7,1138.9 1651.3,1123 1657,1111 1660.8,1109 1667.1,1118.5 1671,1116.9 1676.2,1125.3 1681.2,1134.8 1686.8,1124.6 1690.9,1134.8 1696.1,1129.8 1700.6,1123 1706.7,1136.6 1716.9,1142.7 1721,1136.6 1726.6,1110.6 1730.5,1118.5 1736.8,1124.6 1741.1,1120.1 1750.8,1085.3 1757.2,1077.1 1761,1089.5 1765.5,1068.7 1775,1048.8 1780.9,1067.2 1784.8,1048.8 1794.9,1031 1800.6,1044.5 1805.8,1046.8 1810.8,1045 1814.8,1033 1820.9,1034.8 1825,1026.9 1830.4,1048.4 1834.5,1046.8 1840.6,1057 1850.8,1083 1856.7,1072.1 1864.6,1055.2 1870.7,1075.5 1875.2,1086.4 1880.9,1091.4 1884.9,1102.7 1890.6,1104.9 1894.9,1098.8 1899,1114.7 1905.1,1123 1908.7,1104.9 1914.8,1108.3 1920,1104.9 1925,1104.9 1935.2,1120.1 1939.7,1124.6 1948.7,1139.5 1955.1,1146.8 1961.2,1129.8 1965.7,1116.2 1969.1,1099.7 1974.7,1083.4 1979.3,1075.1 1984.9,1071 1989.4,1059.2 1995.5,1063.1 2005.3,1081.2 2009.8,1078.9 2015,1065.3 2019.5,1048.4 2024.5,1034.8 2029,1033 2033.1,1024.6 2039.2,1050.6 2043.4,1036.4 2047.9,1030.3 2053.6,1024.6 2059.2,1020.8 2063.1,1036.4 2069,1026.9 2073.5,1026.9 2078.9,1016.7 2083,1016.7 2089.3,1031.4 2093.2,1052.9 2102.9,1080.7 2109,1085 2112.8,1098.8 2123.2,1085 2128.9,1094.8 2133.2,1091.4 2140.6,1107.2 2148.6,1123 2153.1,1132.7 2159.2,1118.5 2163.3,1118.5 2167.8,1127.5 2173,1134.8 2176.8,1128.7 2182.9,1112.4 2187,1118.5 2202.8,1083 2213,1091.4 2216.9,1104.9 2227,1086.8 2233.4,1096.6 2237.2,1088.4 2243.1,1094.8 2246.9,1078.9 2252.6,1078.9 2263.5,1083 2267.3,1068.7 2273,1085 2282.7,1100.4 2286.5,1110.6 2292.9,1109 2296.7,1110.6 2301.2,1115.1 2306.9,1102.7 2311.4,1090.7 2317.1,1098.8 2321.1,1074.4 2327.2,1089.1 2331.3,1078.9 2336.7,1085 2342,1097 2347.1,1107.2 2351.7,1119.2" fill="none" stroke="#ab47bc" stroke-width="1.3" stroke-linejoin="round"/>
<circle cx="-19.5" cy="1175.5" r="35.5" fill="none" stroke="#e3e3e3" stroke-width="1.6"/>
<circle cx="-1.5" cy="1180.5" r="6.5" fill="#2196f3"/>
<rect x="0" y="958" width="205" height="38" fill="#fff" fill-opacity="0.6"/>
<text x="6.5" y="988" fill="#4a4a4a" stroke="#4a4a4a" stroke-width="0.45" style="font-size:26.5px" textLength="75" lengthAdjust="spacingAndGlyphs">RSI 14</text>
<text x="101" y="988" fill="#800080" stroke="#800080" stroke-width="0.45" style="font-size:26.5px" textLength="94" lengthAdjust="spacingAndGlyphs">38.3847</text>
</g>
<g fill="#555555">
<rect x="2432" y="0" width="2" height="1282"/>
<rect x="0" y="946" width="2557" height="2"/>
<rect x="0" y="1236" width="2557" height="2"/>
</g>
<g fill="#4a4a4a" stroke="#4a4a4a" stroke-width="0.35" style="font-size:22.5px">
<rect x="2434" y="20" width="8" height="2" fill="#555555" stroke="none"/>
<text x="2449.2" y="30.2" textLength="59.9" lengthAdjust="spacingAndGlyphs">90000</text>
<rect x="2434" y="79.8" width="8" height="2" fill="#555555" stroke="none"/>
<text x="2449.2" y="90" textLength="59.9" lengthAdjust="spacingAndGlyphs">74000</text>
<rect x="2434" y="153.6" width="8" height="2" fill="#555555" stroke="none"/>
<text x="2449.2" y="163.8" textLength="59.9" lengthAdjust="spacingAndGlyphs">58000</text>
<rect x="2434" y="209.8" width="8" height="2" fill="#555555" stroke="none"/>
<text x="2449.2" y="220" textLength="59.9" lengthAdjust="spacingAndGlyphs">48000</text>
<rect x="2434" y="279.3" width="8" height="2" fill="#555555" stroke="none"/>
<text x="2449.2" y="289.5" textLength="59.9" lengthAdjust="spacingAndGlyphs">38000</text>
<rect x="2434" y="560.5" width="8" height="2" fill="#555555" stroke="none"/>
<text x="2449.2" y="570.7" textLength="59.9" lengthAdjust="spacingAndGlyphs">15000</text>
<rect x="2434" y="628.1" width="8" height="2" fill="#555555" stroke="none"/>
<text x="2449.2" y="638.3" textLength="59.9" lengthAdjust="spacingAndGlyphs">12000</text>
<rect x="2434" y="693.6" width="8" height="2" fill="#555555" stroke="none"/>
<text x="2449.2" y="703.8" textLength="48" lengthAdjust="spacingAndGlyphs">9600</text>
<rect x="2434" y="755.3" width="8" height="2" fill="#555555" stroke="none"/>
<text x="2449.2" y="765.5" textLength="48" lengthAdjust="spacingAndGlyphs">7850</text>
<rect x="2434" y="813.6" width="8" height="2" fill="#555555" stroke="none"/>
<text x="2449.2" y="823.8" textLength="48" lengthAdjust="spacingAndGlyphs">6450</text>
<rect x="2434" y="871.4" width="8" height="2" fill="#555555" stroke="none"/>
<text x="2449.2" y="881.6" textLength="48" lengthAdjust="spacingAndGlyphs">5350</text>
<rect x="2434" y="930" width="8" height="2" fill="#555555" stroke="none"/>
<text x="2449.2" y="940.2" textLength="48" lengthAdjust="spacingAndGlyphs">4400</text>
<rect x="2434" y="953.6" width="8" height="2" fill="#555555" stroke="none"/>
<text x="2450.5" y="965.3" textLength="89.8" lengthAdjust="spacingAndGlyphs">100.0000</text>
<rect x="2434" y="1020.6" width="8" height="2" fill="#555555" stroke="none"/>
<text x="2450.5" y="1030.3" textLength="77.9" lengthAdjust="spacingAndGlyphs">75.0000</text>
<rect x="2434" y="1087.6" width="8" height="2" fill="#555555" stroke="none"/>
<text x="2450.5" y="1097.3" textLength="77.9" lengthAdjust="spacingAndGlyphs">50.0000</text>
<rect x="2434" y="1154.6" width="8" height="2" fill="#555555" stroke="none"/>
<text x="2450.5" y="1164.3" textLength="77.9" lengthAdjust="spacingAndGlyphs">25.0000</text>
<rect x="2434" y="1221.6" width="8" height="2" fill="#555555" stroke="none"/>
<text x="2450.5" y="1231.3" textLength="66" lengthAdjust="spacingAndGlyphs">0.0000</text>
</g>
<rect x="2432" y="330" width="94" height="34" fill="#6aa84f"/>
<rect x="2432" y="400" width="94" height="34" fill="#6aa84f"/>
<rect x="2432" y="462" width="94" height="34" fill="#eb4d5c"/>
<rect x="2432" y="496" width="94" height="34" fill="#6aa84f"/>
<rect x="2432" y="530" width="94" height="34" fill="#6aa84f"/>
<rect x="2434" y="345.9" width="8" height="2" fill="#fff" fill-opacity="0.55"/>
<text x="2449.2" y="354.2" fill="#fff" stroke="#fff" stroke-width="0.3" style="font-size:22.5px" textLength="59.5" lengthAdjust="spacingAndGlyphs">30529</text>
<rect x="2434" y="415.7" width="8" height="2" fill="#fff" fill-opacity="0.55"/>
<text x="2449.2" y="424.2" fill="#fff" stroke="#fff" stroke-width="0.3" style="font-size:22.5px" textLength="59.5" lengthAdjust="spacingAndGlyphs">24187</text>
<rect x="2434" y="477.8" width="8" height="2" fill="#fff" fill-opacity="0.55"/>
<text x="2449.2" y="486.2" fill="#fff" stroke="#fff" stroke-width="0.3" style="font-size:22.5px" textLength="59.5" lengthAdjust="spacingAndGlyphs">19760</text>
<rect x="2434" y="511.7" width="8" height="2" fill="#fff" fill-opacity="0.55"/>
<text x="2449.2" y="520.2" fill="#fff" stroke="#fff" stroke-width="0.3" style="font-size:22.5px" textLength="59.5" lengthAdjust="spacingAndGlyphs">19788</text>
<rect x="2434" y="545.5" width="8" height="2" fill="#fff" fill-opacity="0.55"/>
<text x="2449.2" y="554.2" fill="#fff" stroke="#fff" stroke-width="0.3" style="font-size:22.5px" textLength="59.5" lengthAdjust="spacingAndGlyphs">15932</text>
<g clip-path="url(#ct)" fill="#4a4a4a" stroke="#4a4a4a" stroke-width="0.3">
<rect x="133.7" y="1238" width="2" height="6" fill="#555555" stroke="none"/>
<text x="134.7" y="1274.6" text-anchor="middle" style="font-size:23px" textLength="36.2" lengthAdjust="spacingAndGlyphs">Mar</text>
<rect x="317.9" y="1238" width="2" height="6" fill="#555555" stroke="none"/>
<text x="318.9" y="1274.6" text-anchor="middle" style="font-size:23px" textLength="38.5" lengthAdjust="spacingAndGlyphs">May</text>
<rect x="501.6" y="1238" width="2" height="6" fill="#555555" stroke="none"/>
<text x="502.6" y="1274.6" text-anchor="middle" style="font-size:23px" textLength="29.4" lengthAdjust="spacingAndGlyphs">Jul</text>
<rect x="679.8" y="1238" width="2" height="6" fill="#555555" stroke="none"/>
<text x="680.8" y="1274.6" text-anchor="middle" style="font-size:23px" textLength="35.6" lengthAdjust="spacingAndGlyphs">Sep</text>
<rect x="883.9" y="1238" width="2" height="6" fill="#555555" stroke="none"/>
<text x="884.9" y="1274.6" text-anchor="middle" style="font-size:23px" textLength="36.4" lengthAdjust="spacingAndGlyphs">Nov</text>
<rect x="1087.7" y="1238" width="2" height="6" fill="#555555" stroke="none"/>
<text x="1088.7" y="1274.4" text-anchor="middle" font-weight="bold" style="font-size:22px">2021</text>
<rect x="1286" y="1238" width="2" height="6" fill="#555555" stroke="none"/>
<text x="1287" y="1274.6" text-anchor="middle" style="font-size:23px" textLength="36.2" lengthAdjust="spacingAndGlyphs">Mar</text>
<rect x="1450" y="1238" width="2" height="6" fill="#555555" stroke="none"/>
<text x="1451" y="1274.6" text-anchor="middle" style="font-size:23px" textLength="38.5" lengthAdjust="spacingAndGlyphs">May</text>
<rect x="1637.9" y="1238" width="2" height="6" fill="#555555" stroke="none"/>
<text x="1638.9" y="1274.6" text-anchor="middle" style="font-size:23px" textLength="29.4" lengthAdjust="spacingAndGlyphs">Jul</text>
<rect x="1816.1" y="1238" width="2" height="6" fill="#555555" stroke="none"/>
<text x="1817.1" y="1274.6" text-anchor="middle" style="font-size:23px" textLength="35.6" lengthAdjust="spacingAndGlyphs">Sep</text>
<rect x="2015.6" y="1238" width="2" height="6" fill="#555555" stroke="none"/>
<text x="2016.6" y="1274.6" text-anchor="middle" style="font-size:23px" textLength="36.4" lengthAdjust="spacingAndGlyphs">Nov</text>
<rect x="2213.2" y="1238" width="2" height="6" fill="#555555" stroke="none"/>
<text x="2214.2" y="1274.4" text-anchor="middle" font-weight="bold" style="font-size:22px">2022</text>
<rect x="2428" y="1238" width="2" height="6" fill="#555555" stroke="none"/>
<text x="2429" y="1274.6" text-anchor="middle" style="font-size:23px" textLength="36.2" lengthAdjust="spacingAndGlyphs">Mar</text>
</g>
<g stroke="#131722" stroke-width="1.8" fill="none" stroke-linecap="round">
<circle cx="2494" cy="1264" r="9.8"/>
<line x1="2505" y1="1264" x2="2509" y2="1264"/>
<line x1="2501.8" y1="1271.8" x2="2504.6" y2="1274.6"/>
<line x1="2494" y1="1275" x2="2494" y2="1279"/>
<line x1="2486.2" y1="1271.8" x2="2483.4" y2="1274.6"/>
<line x1="2483" y1="1264" x2="2479" y2="1264"/>
<line x1="2486.2" y1="1256.2" x2="2483.4" y2="1253.4"/>
<line x1="2494" y1="1253" x2="2494" y2="1249"/>
<line x1="2501.8" y1="1256.2" x2="2504.6" y2="1253.4"/>
</g>
</svg></body></html>
